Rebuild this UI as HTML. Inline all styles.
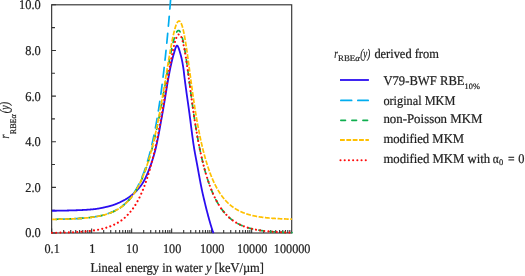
<!DOCTYPE html>
<html><head><meta charset="utf-8"><title>chart</title>
<style>html,body{margin:0;padding:0;background:#fff}svg{display:block}text{font-family:"Liberation Serif",serif;fill:#222;text-rendering:geometricPrecision;stroke:#222;stroke-width:0.22px}.i{font-style:italic}</style></head><body>
<svg width="525" height="276" viewBox="0 0 525 276">
<rect width="525" height="276" fill="#fff"/>
<rect x="51.65" y="4.80" width="240.05" height="228.20" fill="none" stroke="#333" stroke-width="1.15"/>
<path d="M51.65,233.00 h4.3 M51.65,210.18 h3.3 M51.65,187.36 h4.3 M51.65,164.54 h3.3 M51.65,141.72 h4.3 M51.65,118.90 h3.3 M51.65,96.08 h4.3 M51.65,73.26 h3.3 M51.65,50.44 h4.3 M51.65,27.62 h3.3 M51.65,4.80 h4.3 M51.65,233.00 v-4.4 M63.69,233.00 v-3.0 M70.73,233.00 v-3.0 M75.73,233.00 v-3.0 M79.61,233.00 v-3.0 M82.78,233.00 v-3.0 M85.45,233.00 v-3.0 M87.77,233.00 v-3.0 M89.82,233.00 v-3.0 M91.65,233.00 v-4.4 M103.69,233.00 v-3.0 M110.73,233.00 v-3.0 M115.73,233.00 v-3.0 M119.61,233.00 v-3.0 M122.78,233.00 v-3.0 M125.45,233.00 v-3.0 M127.77,233.00 v-3.0 M129.82,233.00 v-3.0 M131.65,233.00 v-4.4 M143.69,233.00 v-3.0 M150.73,233.00 v-3.0 M155.73,233.00 v-3.0 M159.61,233.00 v-3.0 M162.78,233.00 v-3.0 M165.45,233.00 v-3.0 M167.77,233.00 v-3.0 M169.82,233.00 v-3.0 M171.65,233.00 v-4.4 M183.69,233.00 v-3.0 M190.73,233.00 v-3.0 M195.73,233.00 v-3.0 M199.61,233.00 v-3.0 M202.78,233.00 v-3.0 M205.45,233.00 v-3.0 M207.77,233.00 v-3.0 M209.82,233.00 v-3.0 M211.65,233.00 v-4.4 M223.69,233.00 v-3.0 M230.73,233.00 v-3.0 M235.73,233.00 v-3.0 M239.61,233.00 v-3.0 M242.78,233.00 v-3.0 M245.45,233.00 v-3.0 M247.77,233.00 v-3.0 M249.82,233.00 v-3.0 M251.65,233.00 v-4.4 M263.69,233.00 v-3.0 M270.73,233.00 v-3.0 M275.73,233.00 v-3.0 M279.61,233.00 v-3.0 M282.78,233.00 v-3.0 M285.45,233.00 v-3.0 M287.77,233.00 v-3.0 M289.82,233.00 v-3.0" stroke="#333" stroke-width="1.1" fill="none"/>
<path d="M52.00,210.75 L52.25,210.75 L52.50,210.75 L52.75,210.75 L53.00,210.75 L53.25,210.75 L53.50,210.75 L53.75,210.75 L54.00,210.75 L54.25,210.74 L54.50,210.74 L54.75,210.74 L55.00,210.74 L55.25,210.74 L55.50,210.74 L55.75,210.73 L56.00,210.73 L56.25,210.73 L56.50,210.73 L56.75,210.72 L57.00,210.72 L57.25,210.72 L57.50,210.71 L57.75,210.71 L58.00,210.71 L58.25,210.70 L58.50,210.70 L58.75,210.70 L59.00,210.69 L59.25,210.69 L59.50,210.69 L59.75,210.68 L60.00,210.68 L60.25,210.67 L60.50,210.67 L60.75,210.66 L61.00,210.66 L61.25,210.66 L61.50,210.65 L61.75,210.65 L62.00,210.64 L62.25,210.64 L62.50,210.63 L62.75,210.63 L63.00,210.62 L63.25,210.62 L63.50,210.61 L63.75,210.60 L64.00,210.60 L64.25,210.59 L64.50,210.59 L64.75,210.58 L65.00,210.58 L65.25,210.57 L65.50,210.56 L65.75,210.56 L66.00,210.55 L66.25,210.54 L66.50,210.54 L66.75,210.53 L67.00,210.53 L67.25,210.52 L67.50,210.51 L67.75,210.51 L68.00,210.50 L68.25,210.49 L68.50,210.49 L68.75,210.48 L69.00,210.47 L69.25,210.47 L69.50,210.46 L69.75,210.45 L70.00,210.44 L70.25,210.44 L70.50,210.43 L70.75,210.42 L71.00,210.42 L71.25,210.41 L71.50,210.40 L71.75,210.39 L72.00,210.39 L72.25,210.38 L72.50,210.37 L72.75,210.37 L73.00,210.36 L73.25,210.35 L73.50,210.34 L73.75,210.34 L74.00,210.33 L74.25,210.32 L74.50,210.31 L74.75,210.31 L75.00,210.30 L75.25,210.29 L75.50,210.28 L75.75,210.28 L76.00,210.27 L76.25,210.26 L76.50,210.25 L76.75,210.24 L77.00,210.24 L77.25,210.23 L77.50,210.22 L77.75,210.21 L78.00,210.20 L78.25,210.19 L78.50,210.18 L78.75,210.17 L79.00,210.16 L79.25,210.15 L79.50,210.14 L79.75,210.13 L80.00,210.12 L80.25,210.11 L80.50,210.10 L80.75,210.09 L81.00,210.08 L81.25,210.07 L81.50,210.05 L81.75,210.04 L82.00,210.03 L82.25,210.02 L82.50,210.01 L82.75,209.99 L83.00,209.98 L83.25,209.97 L83.50,209.95 L83.75,209.94 L84.00,209.93 L84.25,209.91 L84.50,209.90 L84.75,209.88 L85.00,209.87 L85.25,209.86 L85.50,209.84 L85.75,209.83 L86.00,209.81 L86.25,209.79 L86.50,209.78 L86.75,209.76 L87.00,209.75 L87.25,209.73 L87.50,209.71 L87.75,209.70 L88.00,209.68 L88.25,209.66 L88.50,209.65 L88.75,209.63 L89.00,209.61 L89.25,209.59 L89.50,209.57 L89.75,209.55 L90.00,209.54 L90.25,209.52 L90.50,209.50 L90.75,209.48 L91.00,209.46 L91.25,209.44 L91.50,209.42 L91.75,209.40 L92.00,209.37 L92.25,209.35 L92.50,209.33 L92.75,209.31 L93.00,209.28 L93.25,209.25 L93.50,209.23 L93.75,209.20 L94.00,209.17 L94.25,209.14 L94.50,209.11 L94.75,209.08 L95.00,209.05 L95.25,209.02 L95.50,208.99 L95.75,208.95 L96.00,208.92 L96.25,208.88 L96.50,208.84 L96.75,208.81 L97.00,208.77 L97.25,208.73 L97.50,208.69 L97.75,208.65 L98.00,208.61 L98.25,208.57 L98.50,208.53 L98.75,208.49 L99.00,208.44 L99.25,208.40 L99.50,208.35 L99.75,208.31 L100.00,208.26 L100.25,208.22 L100.50,208.17 L100.75,208.12 L101.00,208.07 L101.25,208.02 L101.50,207.97 L101.75,207.92 L102.00,207.87 L102.25,207.82 L102.50,207.77 L102.75,207.72 L103.00,207.67 L103.25,207.61 L103.50,207.56 L103.75,207.50 L104.00,207.45 L104.25,207.39 L104.50,207.34 L104.75,207.28 L105.00,207.22 L105.25,207.17 L105.50,207.11 L105.75,207.05 L106.00,206.99 L106.25,206.93 L106.50,206.87 L106.75,206.81 L107.00,206.75 L107.25,206.69 L107.50,206.63 L107.75,206.57 L108.00,206.51 L108.25,206.44 L108.50,206.38 L108.75,206.32 L109.00,206.26 L109.25,206.19 L109.50,206.13 L109.75,206.06 L110.00,206.00 L110.25,205.93 L110.50,205.87 L110.75,205.80 L111.00,205.73 L111.25,205.66 L111.50,205.58 L111.75,205.51 L112.00,205.43 L112.25,205.35 L112.50,205.27 L112.75,205.19 L113.00,205.10 L113.25,205.02 L113.50,204.93 L113.75,204.84 L114.00,204.75 L114.25,204.66 L114.50,204.57 L114.75,204.48 L115.00,204.38 L115.25,204.29 L115.50,204.19 L115.75,204.09 L116.00,203.99 L116.25,203.89 L116.50,203.79 L116.75,203.69 L117.00,203.58 L117.25,203.48 L117.50,203.37 L117.75,203.26 L118.00,203.15 L118.25,203.04 L118.50,202.93 L118.75,202.82 L119.00,202.71 L119.25,202.60 L119.50,202.48 L119.75,202.37 L120.00,202.25 L120.25,202.14 L120.50,202.02 L120.75,201.90 L121.00,201.78 L121.25,201.66 L121.50,201.54 L121.75,201.42 L122.00,201.30 L122.25,201.18 L122.50,201.05 L122.75,200.93 L123.00,200.80 L123.25,200.67 L123.50,200.54 L123.75,200.40 L124.00,200.27 L124.25,200.13 L124.50,199.99 L124.75,199.85 L125.00,199.70 L125.25,199.56 L125.50,199.41 L125.75,199.26 L126.00,199.11 L126.25,198.96 L126.50,198.80 L126.75,198.65 L127.00,198.49 L127.25,198.33 L127.50,198.16 L127.75,198.00 L128.00,197.83 L128.25,197.67 L128.50,197.50 L128.75,197.33 L129.00,197.15 L129.25,196.98 L129.50,196.80 L129.75,196.62 L130.00,196.44 L130.25,196.26 L130.50,196.08 L130.75,195.89 L131.00,195.70 L131.25,195.51 L131.50,195.32 L131.75,195.13 L132.00,194.93 L132.25,194.73 L132.50,194.52 L132.75,194.31 L133.00,194.10 L133.25,193.88 L133.50,193.66 L133.75,193.44 L134.00,193.21 L134.25,192.98 L134.50,192.75 L134.75,192.51 L135.00,192.27 L135.25,192.03 L135.50,191.78 L135.75,191.53 L136.00,191.28 L136.25,191.02 L136.50,190.77 L136.75,190.51 L137.00,190.24 L137.25,189.98 L137.50,189.71 L137.75,189.44 L138.00,189.16 L138.25,188.88 L138.50,188.60 L138.75,188.32 L139.00,188.03 L139.25,187.73 L139.50,187.43 L139.75,187.12 L140.00,186.81 L140.25,186.50 L140.50,186.17 L140.75,185.84 L141.00,185.51 L141.25,185.17 L141.50,184.82 L141.75,184.46 L142.00,184.10 L142.25,183.72 L142.50,183.34 L142.75,182.94 L143.00,182.53 L143.25,182.10 L143.50,181.66 L143.75,181.21 L144.00,180.75 L144.25,180.27 L144.50,179.79 L144.75,179.30 L145.00,178.80 L145.25,178.29 L145.50,177.78 L145.75,177.26 L146.00,176.72 L146.25,176.19 L146.50,175.64 L146.75,175.08 L147.00,174.52 L147.25,173.95 L147.50,173.37 L147.75,172.78 L148.00,172.18 L148.25,171.57 L148.50,170.96 L148.75,170.34 L149.00,169.70 L149.25,169.06 L149.50,168.41 L149.75,167.76 L150.00,167.09 L150.25,166.41 L150.50,165.72 L150.75,165.03 L151.00,164.32 L151.25,163.61 L151.50,162.88 L151.75,162.14 L152.00,161.39 L152.25,160.62 L152.50,159.84 L152.75,159.05 L153.00,158.24 L153.25,157.42 L153.50,156.58 L153.75,155.72 L154.00,154.85 L154.25,153.95 L154.50,153.04 L154.75,152.11 L155.00,151.17 L155.25,150.20 L155.50,149.20 L155.75,148.17 L156.00,147.12 L156.25,146.02 L156.50,144.91 L156.75,143.76 L157.00,142.59 L157.25,141.39 L157.50,140.17 L157.75,138.92 L158.00,137.66 L158.25,136.38 L158.50,135.08 L158.75,133.76 L159.00,132.43 L159.25,131.08 L159.50,129.73 L159.75,128.36 L160.00,126.99 L160.25,125.60 L160.50,124.21 L160.75,122.82 L161.00,121.42 L161.25,120.02 L161.50,118.62 L161.75,117.23 L162.00,115.83 L162.25,114.44 L162.50,113.05 L162.75,111.67 L163.00,110.26 L163.25,108.83 L163.50,107.38 L163.75,105.92 L164.00,104.43 L164.25,102.94 L164.50,101.43 L164.75,99.91 L165.00,98.39 L165.25,96.86 L165.50,95.33 L165.75,93.79 L166.00,92.26 L166.25,90.73 L166.50,89.21 L166.75,87.70 L167.00,86.19 L167.25,84.70 L167.50,83.22 L167.75,81.76 L168.00,80.32 L168.25,78.90 L168.50,77.50 L168.75,76.11 L169.00,74.73 L169.25,73.36 L169.50,72.02 L169.75,70.72 L170.00,69.48 L170.25,68.29 L170.50,67.12 L170.75,65.96 L171.00,64.82 L171.25,63.69 L171.50,62.59 L171.75,61.51 L172.00,60.45 L172.25,59.43 L172.50,58.43 L172.75,57.47 L173.00,56.55 L173.25,55.67 L173.50,54.82 L173.75,54.01 L174.00,53.16 L174.25,52.29 L174.50,51.40 L174.75,50.52 L175.00,49.66 L175.25,48.85 L175.50,48.08 L175.75,47.39 L176.00,46.79 L176.25,46.29 L176.50,45.92 L176.75,45.68 L177.00,45.60 L177.25,45.67 L177.50,45.87 L177.75,46.18 L178.00,46.61 L178.25,47.12 L178.50,47.73 L178.75,48.40 L179.00,49.13 L179.25,49.92 L179.50,50.74 L179.75,51.58 L180.00,52.45 L180.25,53.31 L180.50,54.16 L180.75,55.02 L181.00,55.93 L181.25,56.93 L181.50,57.99 L181.75,59.13 L182.00,60.33 L182.25,61.61 L182.50,62.95 L182.75,64.36 L183.00,65.84 L183.25,67.39 L183.50,69.00 L183.75,70.88 L184.00,73.07 L184.25,75.36 L184.50,77.50 L184.75,79.48 L185.00,81.42 L185.25,83.33 L185.50,85.21 L185.75,87.07 L186.00,88.90 L186.25,90.72 L186.50,92.52 L186.75,94.30 L187.00,96.08 L187.25,97.85 L187.50,99.61 L187.75,101.38 L188.00,103.15 L188.25,104.92 L188.50,106.70 L188.75,108.49 L189.00,110.30 L189.25,112.13 L189.50,113.98 L189.75,115.87 L190.00,117.78 L190.25,119.71 L190.50,121.66 L190.75,123.62 L191.00,125.58 L191.25,127.54 L191.50,129.49 L191.75,131.44 L192.00,133.36 L192.25,135.26 L192.50,137.14 L192.75,138.98 L193.00,140.78 L193.25,142.54 L193.50,144.25 L193.75,145.91 L194.00,147.50 L194.25,149.03 L194.50,150.51 L194.75,151.95 L195.00,153.34 L195.25,154.71 L195.50,156.04 L195.75,157.36 L196.00,158.67 L196.25,159.97 L196.50,161.28 L196.75,162.59 L197.00,163.92 L197.25,165.27 L197.50,166.64 L197.75,168.01 L198.00,169.39 L198.25,170.77 L198.50,172.15 L198.75,173.54 L199.00,174.91 L199.25,176.28 L199.50,177.64 L199.75,178.99 L200.00,180.33 L200.25,181.65 L200.50,182.96 L200.75,184.24 L201.00,185.50 L201.25,186.76 L201.50,188.00 L201.75,189.23 L202.00,190.44 L202.25,191.63 L202.50,192.79 L202.75,193.91 L203.00,195.00 L203.25,196.06 L203.50,197.12 L203.75,198.18 L204.00,199.23 L204.25,200.27 L204.50,201.31 L204.75,202.35 L205.00,203.38 L205.25,204.40 L205.50,205.42 L205.75,206.44 L206.00,207.44 L206.25,208.44 L206.50,209.44 L206.75,210.42 L207.00,211.40 L207.25,212.37 L207.50,213.33 L207.75,214.29 L208.00,215.23 L208.25,216.17 L208.50,217.09 L208.75,218.01 L209.00,218.92 L209.25,219.82 L209.50,220.71 L209.75,221.58 L210.00,222.45 L210.25,223.31 L210.50,224.15 L210.75,224.98 L211.00,225.80 L211.25,226.61 L211.50,227.41 L211.75,228.19 L212.00,228.96 L212.25,229.72 L212.50,230.46 L212.75,231.20 L213.00,231.91 L213.25,232.61 L213.50,233.30" fill="none" stroke="#2a0df0" stroke-width="1.8" stroke-linejoin="round"/>
<path d="M52.00,219.34 L52.20,219.34 L52.40,219.34 L52.60,219.33 L52.80,219.33 L53.00,219.33 L53.20,219.33 L53.40,219.32 L53.60,219.32 L53.80,219.32 L54.00,219.31 L54.20,219.31 L54.40,219.31 L54.60,219.30 L54.80,219.30 L55.00,219.30 L55.20,219.30 L55.40,219.29 L55.60,219.29 L55.80,219.29 L56.00,219.28 L56.20,219.28 L56.40,219.27 L56.60,219.27 L56.80,219.27 L57.00,219.26 L57.20,219.26 L57.40,219.26 L57.60,219.25 L57.80,219.25 L58.00,219.24 L58.20,219.24 L58.40,219.24 L58.60,219.23 L58.80,219.23 L59.00,219.23 L59.20,219.22 L59.40,219.22 L59.60,219.21 L59.80,219.21 L60.00,219.20 L60.20,219.20 L60.40,219.20 L60.60,219.19 L60.80,219.19 L61.00,219.18 L61.20,219.18 L61.40,219.17 L61.60,219.17 L61.80,219.16 L62.00,219.16 L62.20,219.15 L62.40,219.15 L62.60,219.14 L62.80,219.14 L63.00,219.13 L63.20,219.13 L63.40,219.12 L63.60,219.12 L63.80,219.11 L64.00,219.11 L64.20,219.10 L64.40,219.09 L64.60,219.09 L64.80,219.08 L65.00,219.08 L65.20,219.07 L65.40,219.07 L65.60,219.06 L65.80,219.05 L66.00,219.05 L66.20,219.04 L66.40,219.04 L66.60,219.03 L66.80,219.02 L67.00,219.02 L67.20,219.01 L67.40,219.00 L67.60,219.00 L67.80,218.99 L68.00,218.98 L68.20,218.98 L68.40,218.97 L68.60,218.96 L68.80,218.95 L69.00,218.95 L69.20,218.94 L69.40,218.93 L69.60,218.93 L69.80,218.92 L70.00,218.91 L70.20,218.90 L70.40,218.89 L70.60,218.89 L70.80,218.88 L71.00,218.87 L71.20,218.86 L71.40,218.85 L71.60,218.84 L71.80,218.84 L72.00,218.83 L72.20,218.82 L72.40,218.81 L72.60,218.80 L72.80,218.79 L73.00,218.78 L73.20,218.77 L73.40,218.76 L73.60,218.75 L73.80,218.75 L74.00,218.74 L74.20,218.73 L74.40,218.72 L74.60,218.71 L74.80,218.70 L75.00,218.69 L75.20,218.68 L75.40,218.66 L75.60,218.65 L75.80,218.64 L76.00,218.63 L76.20,218.62 L76.40,218.61 L76.60,218.60 L76.80,218.59 L77.00,218.58 L77.20,218.56 L77.40,218.55 L77.60,218.54 L77.80,218.53 L78.00,218.52 L78.20,218.50 L78.40,218.49 L78.60,218.48 L78.80,218.47 L79.00,218.45 L79.20,218.44 L79.40,218.43 L79.60,218.41 L79.80,218.40 L80.00,218.39 L80.20,218.37 L80.40,218.36 L80.60,218.34 L80.80,218.33 L81.00,218.32 L81.20,218.30 L81.40,218.29 L81.60,218.27 L81.80,218.26 L82.00,218.24 L82.20,218.23 L82.40,218.21 L82.60,218.19 L82.80,218.18 L83.00,218.16 L83.20,218.14 L83.40,218.13 L83.60,218.11 L83.80,218.09 L84.00,218.08 L84.20,218.06 L84.40,218.04 L84.60,218.02 L84.80,218.01 L85.00,217.99 L85.20,217.97 L85.40,217.95 L85.60,217.93 L85.80,217.91 L86.00,217.89 L86.20,217.87 L86.40,217.85 L86.60,217.83 L86.80,217.81 L87.00,217.79 L87.20,217.77 L87.40,217.75 L87.60,217.73 L87.80,217.71 L88.00,217.69 L88.20,217.67 L88.40,217.64 L88.60,217.62 L88.80,217.60 L89.00,217.58 L89.20,217.55 L89.40,217.53 L89.60,217.50 L89.80,217.48 L90.00,217.46 L90.20,217.43 L90.40,217.41 L90.60,217.38 L90.80,217.36 L91.00,217.33 L91.20,217.30 L91.40,217.28 L91.60,217.25 L91.80,217.22 L92.00,217.20 L92.20,217.17 L92.40,217.14 L92.60,217.11 L92.80,217.08 L93.00,217.06 L93.20,217.03 L93.40,217.00 L93.60,216.97 L93.80,216.94 L94.00,216.91 L94.20,216.88 L94.40,216.84 L94.60,216.81 L94.80,216.78 L95.00,216.75 L95.20,216.71 L95.40,216.68 L95.60,216.65 L95.80,216.61 L96.00,216.58 L96.20,216.54 L96.40,216.51 L96.60,216.47 L96.80,216.44 L97.00,216.40 L97.20,216.36 L97.40,216.33 L97.60,216.29 L97.80,216.25 L98.00,216.21 L98.20,216.17 L98.40,216.13 L98.60,216.10 L98.80,216.05 L99.00,216.01 L99.20,215.97 L99.40,215.93 L99.60,215.89 L99.80,215.85 L100.00,215.80 L100.20,215.76 L100.40,215.71 L100.60,215.67 L100.80,215.62 L101.00,215.58 L101.20,215.53 L101.40,215.49 L101.60,215.44 L101.80,215.39 L102.00,215.34 L102.20,215.29 L102.40,215.24 L102.60,215.19 L102.80,215.14 L103.00,215.09 L103.20,215.04 L103.40,214.99 L103.60,214.93 L103.80,214.88 L104.00,214.82 L104.20,214.77 L104.40,214.71 L104.60,214.66 L104.80,214.60 L105.00,214.54 L105.20,214.48 L105.40,214.42 L105.60,214.36 L105.80,214.30 L106.00,214.24 L106.20,214.18 L106.40,214.12 L106.60,214.06 L106.80,213.99 L107.00,213.93 L107.20,213.86 L107.40,213.80 L107.60,213.73 L107.80,213.66 L108.00,213.59 L108.20,213.52 L108.40,213.45 L108.60,213.38 L108.80,213.31 L109.00,213.24 L109.20,213.16 L109.40,213.09 L109.60,213.01 L109.80,212.94 L110.00,212.86 L110.20,212.78 L110.40,212.70 L110.60,212.62 L110.80,212.54 L111.00,212.46 L111.20,212.38 L111.40,212.30 L111.60,212.21 L111.80,212.13 L112.00,212.04 L112.20,211.95 L112.40,211.87 L112.60,211.78 L112.80,211.69 L113.00,211.59 L113.20,211.50 L113.40,211.41 L113.60,211.31 L113.80,211.22 L114.00,211.12 L114.20,211.02 L114.40,210.92 L114.60,210.82 L114.80,210.72 L115.00,210.62 L115.20,210.52 L115.40,210.41 L115.60,210.30 L115.80,210.20 L116.00,210.09 L116.20,209.98 L116.40,209.87 L116.60,209.75 L116.80,209.64 L117.00,209.53 L117.20,209.41 L117.40,209.29 L117.60,209.17 L117.80,209.05 L118.00,208.93 L118.20,208.81 L118.40,208.68 L118.60,208.56 L118.80,208.43 L119.00,208.30 L119.20,208.17 L119.40,208.04 L119.60,207.90 L119.80,207.77 L120.00,207.63 L120.20,207.49 L120.40,207.35 L120.60,207.21 L120.80,207.07 L121.00,206.92 L121.20,206.78 L121.40,206.63 L121.60,206.48 L121.80,206.33 L122.00,206.17 L122.20,206.02 L122.40,205.86 L122.60,205.70 L122.80,205.54 L123.00,205.38 L123.20,205.21 L123.40,205.05 L123.60,204.88 L123.80,204.71 L124.00,204.54 L124.20,204.36 L124.40,204.18 L124.60,204.01 L124.80,203.83 L125.00,203.64 L125.20,203.46 L125.40,203.27 L125.60,203.08 L125.80,202.89 L126.00,202.70 L126.20,202.50 L126.40,202.31 L126.60,202.11 L126.80,201.90 L127.00,201.70 L127.20,201.49 L127.40,201.28 L127.60,201.07 L127.80,200.86 L128.00,200.64 L128.20,200.42 L128.40,200.20 L128.60,199.97 L128.80,199.75 L129.00,199.52 L129.20,199.28 L129.40,199.05 L129.60,198.81 L129.80,198.57 L130.00,198.33 L130.20,198.08 L130.40,197.83 L130.60,197.58 L130.80,197.33 L131.00,197.07 L131.20,196.81 L131.40,196.54 L131.60,196.28 L131.80,196.01 L132.00,195.73 L132.20,195.46 L132.40,195.18 L132.60,194.90 L132.80,194.61 L133.00,194.32 L133.20,194.03 L133.40,193.73 L133.60,193.43 L133.80,193.13 L134.00,192.83 L134.20,192.52 L134.40,192.20 L134.60,191.88 L134.80,191.56 L135.00,191.24 L135.20,190.91 L135.40,190.58 L135.60,190.24 L135.80,189.90 L136.00,189.56 L136.20,189.21 L136.40,188.86 L136.60,188.51 L136.80,188.15 L137.00,187.78 L137.20,187.41 L137.40,187.04 L137.60,186.66 L137.80,186.28 L138.00,185.90 L138.20,185.51 L138.40,185.11 L138.60,184.71 L138.80,184.31 L139.00,183.90 L139.20,183.49 L139.40,183.07 L139.60,182.65 L139.80,182.22 L140.00,181.79 L140.20,181.35 L140.40,180.91 L140.60,180.46 L140.80,180.01 L141.00,179.55 L141.20,179.08 L141.40,178.62 L141.60,178.14 L141.80,177.66 L142.00,177.18 L142.20,176.68 L142.40,176.19 L142.60,175.69 L142.80,175.18 L143.00,174.66 L143.20,174.14 L143.40,173.62 L143.60,173.08 L143.80,172.55 L144.00,172.00 L144.20,171.45 L144.40,170.89 L144.60,170.33 L144.80,169.76 L145.00,169.18 L145.20,168.60 L145.40,168.01 L145.60,167.41 L145.80,166.81 L146.00,166.20 L146.20,165.58 L146.40,164.95 L146.60,164.32 L146.80,163.68 L147.00,163.03 L147.20,162.38 L147.40,161.71 L147.60,161.04 L147.80,160.37 L148.00,159.68 L148.20,158.99 L148.40,158.29 L148.60,157.58 L148.80,156.86 L149.00,156.13 L149.20,155.40 L149.40,154.65 L149.60,153.90 L149.80,153.14 L150.00,152.37 L150.20,151.59 L150.40,150.81 L150.60,150.01 L150.80,149.20 L151.00,148.39 L151.20,147.57 L151.40,146.73 L151.60,145.89 L151.80,145.03 L152.00,144.17 L152.20,143.30 L152.40,142.41 L152.60,141.52 L152.80,140.62 L153.00,139.70 L153.20,138.78 L153.40,137.84 L153.60,136.90 L153.80,135.94 L154.00,134.97 L154.20,133.99 L154.40,133.00 L154.60,132.00 L154.80,130.98 L155.00,129.96 L155.20,128.92 L155.40,127.87 L155.60,126.81 L155.80,125.73 L156.00,124.65 L156.20,123.55 L156.40,122.43 L156.60,121.31 L156.80,120.17 L157.00,119.02 L157.20,117.86 L157.40,116.68 L157.60,115.49 L157.80,114.28 L158.00,113.06 L158.20,111.83 L158.40,110.58 L158.60,109.32 L158.80,108.04 L159.00,106.75 L159.20,105.44 L159.40,104.12 L159.60,102.78 L159.80,101.43 L160.00,100.06 L160.20,98.68 L160.40,97.28 L160.60,95.86 L160.80,94.43 L161.00,92.98 L161.20,91.52 L161.40,90.03 L161.60,88.53 L161.80,87.02 L162.00,85.48 L162.20,83.93 L162.40,82.36 L162.60,80.77 L162.80,79.16 L163.00,77.53 L163.20,75.89 L163.40,74.23 L163.60,72.54 L163.80,70.84 L164.00,69.12 L164.20,67.38 L164.40,65.61 L164.60,63.83 L164.80,62.03 L165.00,60.20 L165.20,58.36 L165.40,56.49 L165.60,54.60 L165.80,52.69 L166.00,50.76 L166.20,48.80 L166.40,46.83 L166.60,44.83 L166.80,42.80 L167.00,40.76 L167.20,38.68 L167.40,36.59 L167.60,34.47 L167.80,32.33 L168.00,30.16 L168.20,27.97 L168.40,25.75 L168.60,23.50 L168.80,21.23 L169.00,18.94 L169.20,16.61 L169.40,14.26 L169.60,11.88 L169.80,9.48 L170.00,7.05 L170.20,4.59 L170.40,2.10 L170.60,-0.42" fill="none" stroke="#00adef" stroke-width="1.7" stroke-linecap="round" stroke-dasharray="9.7 7.4" stroke-dashoffset="11.70" stroke-linejoin="round"/>
<path d="M52.00,219.35 L52.20,219.35 L52.40,219.34 L52.60,219.34 L52.80,219.34 L53.00,219.34 L53.20,219.33 L53.40,219.33 L53.60,219.33 L53.80,219.32 L54.00,219.32 L54.20,219.32 L54.40,219.32 L54.60,219.31 L54.80,219.31 L55.00,219.31 L55.20,219.30 L55.40,219.30 L55.60,219.30 L55.80,219.29 L56.00,219.29 L56.20,219.29 L56.40,219.28 L56.60,219.28 L56.80,219.28 L57.00,219.27 L57.20,219.27 L57.40,219.26 L57.60,219.26 L57.80,219.26 L58.00,219.25 L58.20,219.25 L58.40,219.25 L58.60,219.24 L58.80,219.24 L59.00,219.23 L59.20,219.23 L59.40,219.23 L59.60,219.22 L59.80,219.22 L60.00,219.21 L60.20,219.21 L60.40,219.21 L60.60,219.20 L60.80,219.20 L61.00,219.19 L61.20,219.19 L61.40,219.18 L61.60,219.18 L61.80,219.17 L62.00,219.17 L62.20,219.16 L62.40,219.16 L62.60,219.15 L62.80,219.15 L63.00,219.14 L63.20,219.14 L63.40,219.13 L63.60,219.13 L63.80,219.12 L64.00,219.12 L64.20,219.11 L64.40,219.11 L64.60,219.10 L64.80,219.10 L65.00,219.09 L65.20,219.09 L65.40,219.08 L65.60,219.07 L65.80,219.07 L66.00,219.06 L66.20,219.06 L66.40,219.05 L66.60,219.04 L66.80,219.04 L67.00,219.03 L67.20,219.02 L67.40,219.02 L67.60,219.01 L67.80,219.01 L68.00,219.00 L68.20,218.99 L68.40,218.98 L68.60,218.98 L68.80,218.97 L69.00,218.96 L69.20,218.96 L69.40,218.95 L69.60,218.94 L69.80,218.93 L70.00,218.93 L70.20,218.92 L70.40,218.91 L70.60,218.90 L70.80,218.90 L71.00,218.89 L71.20,218.88 L71.40,218.87 L71.60,218.86 L71.80,218.86 L72.00,218.85 L72.20,218.84 L72.40,218.83 L72.60,218.82 L72.80,218.81 L73.00,218.80 L73.20,218.79 L73.40,218.79 L73.60,218.78 L73.80,218.77 L74.00,218.76 L74.20,218.75 L74.40,218.74 L74.60,218.73 L74.80,218.72 L75.00,218.71 L75.20,218.70 L75.40,218.69 L75.60,218.68 L75.80,218.67 L76.00,218.66 L76.20,218.65 L76.40,218.64 L76.60,218.62 L76.80,218.61 L77.00,218.60 L77.20,218.59 L77.40,218.58 L77.60,218.57 L77.80,218.56 L78.00,218.54 L78.20,218.53 L78.40,218.52 L78.60,218.51 L78.80,218.50 L79.00,218.48 L79.20,218.47 L79.40,218.46 L79.60,218.44 L79.80,218.43 L80.00,218.42 L80.20,218.40 L80.40,218.39 L80.60,218.38 L80.80,218.36 L81.00,218.35 L81.20,218.33 L81.40,218.32 L81.60,218.31 L81.80,218.29 L82.00,218.28 L82.20,218.26 L82.40,218.25 L82.60,218.23 L82.80,218.21 L83.00,218.20 L83.20,218.18 L83.40,218.17 L83.60,218.15 L83.80,218.13 L84.00,218.12 L84.20,218.10 L84.40,218.08 L84.60,218.06 L84.80,218.05 L85.00,218.03 L85.20,218.01 L85.40,217.99 L85.60,217.97 L85.80,217.96 L86.00,217.94 L86.20,217.92 L86.40,217.90 L86.60,217.88 L86.80,217.86 L87.00,217.84 L87.20,217.82 L87.40,217.80 L87.60,217.78 L87.80,217.76 L88.00,217.74 L88.20,217.72 L88.40,217.69 L88.60,217.67 L88.80,217.65 L89.00,217.63 L89.20,217.61 L89.40,217.58 L89.60,217.56 L89.80,217.54 L90.00,217.51 L90.20,217.49 L90.40,217.46 L90.60,217.44 L90.80,217.41 L91.00,217.39 L91.20,217.36 L91.40,217.34 L91.60,217.31 L91.80,217.29 L92.00,217.26 L92.20,217.23 L92.40,217.21 L92.60,217.18 L92.80,217.15 L93.00,217.12 L93.20,217.09 L93.40,217.06 L93.60,217.04 L93.80,217.01 L94.00,216.98 L94.20,216.95 L94.40,216.92 L94.60,216.88 L94.80,216.85 L95.00,216.82 L95.20,216.79 L95.40,216.76 L95.60,216.72 L95.80,216.69 L96.00,216.66 L96.20,216.62 L96.40,216.59 L96.60,216.56 L96.80,216.52 L97.00,216.49 L97.20,216.45 L97.40,216.41 L97.60,216.38 L97.80,216.34 L98.00,216.30 L98.20,216.26 L98.40,216.23 L98.60,216.19 L98.80,216.15 L99.00,216.11 L99.20,216.07 L99.40,216.03 L99.60,215.99 L99.80,215.94 L100.00,215.90 L100.20,215.86 L100.40,215.82 L100.60,215.77 L100.80,215.73 L101.00,215.68 L101.20,215.64 L101.40,215.59 L101.60,215.55 L101.80,215.50 L102.00,215.45 L102.20,215.41 L102.40,215.36 L102.60,215.31 L102.80,215.26 L103.00,215.21 L103.20,215.16 L103.40,215.11 L103.60,215.06 L103.80,215.00 L104.00,214.95 L104.20,214.90 L104.40,214.84 L104.60,214.79 L104.80,214.73 L105.00,214.68 L105.20,214.62 L105.40,214.56 L105.60,214.50 L105.80,214.44 L106.00,214.39 L106.20,214.33 L106.40,214.26 L106.60,214.20 L106.80,214.14 L107.00,214.08 L107.20,214.01 L107.40,213.95 L107.60,213.88 L107.80,213.82 L108.00,213.75 L108.20,213.68 L108.40,213.62 L108.60,213.55 L108.80,213.48 L109.00,213.41 L109.20,213.34 L109.40,213.26 L109.60,213.19 L109.80,213.12 L110.00,213.04 L110.20,212.97 L110.40,212.89 L110.60,212.81 L110.80,212.73 L111.00,212.65 L111.20,212.57 L111.40,212.49 L111.60,212.41 L111.80,212.33 L112.00,212.24 L112.20,212.16 L112.40,212.07 L112.60,211.99 L112.80,211.90 L113.00,211.81 L113.20,211.72 L113.40,211.63 L113.60,211.54 L113.80,211.45 L114.00,211.35 L114.20,211.26 L114.40,211.16 L114.60,211.06 L114.80,210.96 L115.00,210.86 L115.20,210.76 L115.40,210.66 L115.60,210.56 L115.80,210.45 L116.00,210.35 L116.20,210.24 L116.40,210.13 L116.60,210.03 L116.80,209.91 L117.00,209.80 L117.20,209.69 L117.40,209.58 L117.60,209.46 L117.80,209.34 L118.00,209.23 L118.20,209.11 L118.40,208.98 L118.60,208.86 L118.80,208.74 L119.00,208.61 L119.20,208.49 L119.40,208.36 L119.60,208.23 L119.80,208.10 L120.00,207.97 L120.20,207.83 L120.40,207.70 L120.60,207.56 L120.80,207.42 L121.00,207.28 L121.20,207.14 L121.40,206.99 L121.60,206.85 L121.80,206.70 L122.00,206.55 L122.20,206.40 L122.40,206.25 L122.60,206.10 L122.80,205.94 L123.00,205.78 L123.20,205.62 L123.40,205.46 L123.60,205.30 L123.80,205.14 L124.00,204.97 L124.20,204.80 L124.40,204.63 L124.60,204.46 L124.80,204.28 L125.00,204.11 L125.20,203.93 L125.40,203.75 L125.60,203.57 L125.80,203.38 L126.00,203.20 L126.20,203.01 L126.40,202.82 L126.60,202.62 L126.80,202.43 L127.00,202.23 L127.20,202.03 L127.40,201.83 L127.60,201.62 L127.80,201.42 L128.00,201.21 L128.20,201.00 L128.40,200.78 L128.60,200.57 L128.80,200.35 L129.00,200.13 L129.20,199.90 L129.40,199.68 L129.60,199.45 L129.80,199.22 L130.00,198.98 L130.20,198.74 L130.40,198.51 L130.60,198.26 L130.80,198.02 L131.00,197.77 L131.20,197.52 L131.40,197.27 L131.60,197.01 L131.80,196.75 L132.00,196.49 L132.20,196.22 L132.40,195.96 L132.60,195.69 L132.80,195.41 L133.00,195.13 L133.20,194.85 L133.40,194.57 L133.60,194.28 L133.80,193.99 L134.00,193.70 L134.20,193.40 L134.40,193.10 L134.60,192.80 L134.80,192.49 L135.00,192.18 L135.20,191.87 L135.40,191.55 L135.60,191.23 L135.80,190.91 L136.00,190.58 L136.20,190.25 L136.40,189.92 L136.60,189.58 L136.80,189.23 L137.00,188.89 L137.20,188.54 L137.40,188.18 L137.60,187.82 L137.80,187.46 L138.00,187.10 L138.20,186.73 L138.40,186.35 L138.60,185.97 L138.80,185.59 L139.00,185.20 L139.20,184.81 L139.40,184.42 L139.60,184.02 L139.80,183.61 L140.00,183.21 L140.20,182.79 L140.40,182.37 L140.60,181.95 L140.80,181.53 L141.00,181.09 L141.20,180.66 L141.40,180.22 L141.60,179.77 L141.80,179.32 L142.00,178.87 L142.20,178.41 L142.40,177.94 L142.60,177.47 L142.80,176.99 L143.00,176.51 L143.20,176.03 L143.40,175.54 L143.60,175.04 L143.80,174.54 L144.00,174.03 L144.20,173.52 L144.40,173.00 L144.60,172.48 L144.80,171.95 L145.00,171.42 L145.20,170.88 L145.40,170.33 L145.60,169.78 L145.80,169.23 L146.00,168.66 L146.20,168.09 L146.40,167.52 L146.60,166.94 L146.80,166.35 L147.00,165.76 L147.20,165.16 L147.40,164.56 L147.60,163.95 L147.80,163.33 L148.00,162.71 L148.20,162.08 L148.40,161.44 L148.60,160.80 L148.80,160.15 L149.00,159.49 L149.20,158.83 L149.40,158.16 L149.60,157.49 L149.80,156.81 L150.00,156.12 L150.20,155.42 L150.40,154.72 L150.60,154.01 L150.80,153.30 L151.00,152.57 L151.20,151.84 L151.40,151.11 L151.60,150.36 L151.80,149.61 L152.00,148.86 L152.20,148.09 L152.40,147.32 L152.60,146.54 L152.80,145.76 L153.00,144.96 L153.20,144.16 L153.40,143.36 L153.60,142.54 L153.80,141.72 L154.00,140.89 L154.20,140.05 L154.40,139.21 L154.60,138.36 L154.80,137.50 L155.00,136.64 L155.20,135.76 L155.40,134.88 L155.60,134.00 L155.80,133.10 L156.00,132.20 L156.20,131.29 L156.40,130.38 L156.60,129.45 L156.80,128.52 L157.00,127.58 L157.20,126.64 L157.40,125.69 L157.60,124.73 L157.80,123.76 L158.00,122.79 L158.20,121.81 L158.40,120.82 L158.60,119.83 L158.80,118.83 L159.00,117.82 L159.20,116.81 L159.40,115.79 L159.60,114.76 L159.80,113.73 L160.00,112.69 L160.20,111.65 L160.40,110.60 L160.60,109.54 L160.80,108.48 L161.00,107.41 L161.20,106.33 L161.40,105.25 L161.60,104.17 L161.80,103.08 L162.00,101.98 L162.20,100.88 L162.40,99.78 L162.60,98.67 L162.80,97.56 L163.00,96.44 L163.20,95.32 L163.40,94.20 L163.60,93.07 L163.80,91.94 L164.00,90.81 L164.20,89.67 L164.40,88.53 L164.60,87.39 L164.80,86.25 L165.00,85.11 L165.20,83.96 L165.40,82.82 L165.60,81.67 L165.80,80.52 L166.00,79.38 L166.20,78.23 L166.40,77.09 L166.60,75.94 L166.80,74.80 L167.00,73.66 L167.20,72.52 L167.40,71.39 L167.60,70.26 L167.80,69.13 L168.00,68.01 L168.20,66.89 L168.40,65.77 L168.60,64.67 L168.80,63.57 L169.00,62.47 L169.20,61.38 L169.40,60.30 L169.60,59.23 L169.80,58.17 L170.00,57.12 L170.20,56.08 L170.40,55.05 L170.60,54.03 L170.80,53.02 L171.00,52.02 L171.20,51.04 L171.40,50.07 L171.60,49.12 L171.80,48.18 L172.00,47.26 L172.20,46.36 L172.40,45.47 L172.60,44.60 L172.80,43.75 L173.00,42.92 L173.20,42.11 L173.40,41.32 L173.60,40.55 L173.80,39.80 L174.00,39.08 L174.20,38.38 L174.40,37.71 L174.60,37.06 L174.80,36.44 L175.00,35.85 L175.20,35.28 L175.40,34.74 L175.60,34.23 L175.80,33.75 L176.00,33.30 L176.20,32.88 L176.40,32.50 L176.60,32.14 L176.80,31.82 L177.00,31.54 L177.20,31.28 L177.40,31.07 L177.60,30.89 L177.80,30.74 L178.00,30.63 L178.20,30.56 L178.40,30.52 L178.60,30.53 L178.80,30.57 L179.00,30.65 L179.20,30.77 L179.40,30.93 L179.60,31.13 L179.80,31.37 L180.00,31.65 L180.20,31.96 L180.40,32.32 L180.60,32.72 L180.80,33.16 L181.00,33.64 L181.20,34.16 L181.40,34.72 L181.60,35.32 L181.80,35.96 L182.00,36.64 L182.20,37.35 L182.40,38.11 L182.60,38.90 L182.80,39.73 L183.00,40.60 L183.20,41.51 L183.40,42.45 L183.60,43.42 L183.80,44.43 L184.00,45.47 L184.20,46.55 L184.40,47.65 L184.60,48.79 L184.80,49.95 L185.00,51.15 L185.20,52.37 L185.40,53.62 L185.60,54.89 L185.80,56.19 L186.00,57.51 L186.20,58.86 L186.40,60.22 L186.60,61.60 L186.80,63.00 L187.00,64.42 L187.20,65.85 L187.40,67.30 L187.60,68.76 L187.80,70.23 L188.00,71.71 L188.20,73.21 L188.40,74.70 L188.60,76.21 L188.80,77.72 L189.00,79.24 L189.20,80.75 L189.40,82.27 L189.60,83.79 L189.80,85.31 L190.00,86.83 L190.20,88.35 L190.40,89.86 L190.60,91.37 L190.80,92.87 L191.00,94.37 L191.20,95.86 L191.40,97.35 L191.60,98.82 L191.80,100.29 L192.00,101.75 L192.20,103.20 L192.40,104.64 L192.60,106.06 L192.80,107.48 L193.00,108.88 L193.20,110.27 L193.40,111.65 L193.60,113.02 L193.80,114.38 L194.00,115.72 L194.20,117.05 L194.40,118.36 L194.60,119.66 L194.80,120.95 L195.00,122.23 L195.20,123.49 L195.40,124.74 L195.60,125.97 L195.80,127.19 L196.00,128.40 L196.20,129.60 L196.40,130.78 L196.60,131.95 L196.80,133.10 L197.00,134.24 L197.20,135.37 L197.40,136.49 L197.60,137.60 L197.80,138.69 L198.00,139.77 L198.20,140.83 L198.40,141.89 L198.60,142.93 L198.80,143.96 L199.00,144.98 L199.20,145.99 L199.40,146.98 L199.60,147.97 L199.80,148.94 L200.00,149.90 L200.20,150.86 L200.40,151.80 L200.60,152.73 L200.80,153.64 L201.00,154.55 L201.20,155.45 L201.40,156.34 L201.60,157.22 L201.80,158.08 L202.00,158.94 L202.20,159.79 L202.40,160.63 L202.60,161.46 L202.80,162.27 L203.00,163.08 L203.20,163.88 L203.40,164.68 L203.60,165.46 L203.80,166.23 L204.00,166.99 L204.20,167.75 L204.40,168.50 L204.60,169.24 L204.80,169.97 L205.00,170.69 L205.20,171.40 L205.40,172.11 L205.60,172.80 L205.80,173.49 L206.00,174.17 L206.20,174.85 L206.40,175.51 L206.60,176.17 L206.80,176.82 L207.00,177.46 L207.20,178.10 L207.40,178.73 L207.60,179.35 L207.80,179.96 L208.00,180.57 L208.20,181.17 L208.40,181.76 L208.60,182.35 L208.80,182.93 L209.00,183.50 L209.20,184.07 L209.40,184.63 L209.60,185.18 L209.80,185.73 L210.00,186.27 L210.20,186.81 L210.40,187.34 L210.60,187.86 L210.80,188.37 L211.00,188.89 L211.20,189.39 L211.40,189.89 L211.60,190.38 L211.80,190.87 L212.00,191.35 L212.20,191.83 L212.40,192.30 L212.60,192.77 L212.80,193.23 L213.00,193.68 L213.20,194.13 L213.40,194.58 L213.60,195.02 L213.80,195.45 L214.00,195.88 L214.20,196.31 L214.40,196.73 L214.60,197.14 L214.80,197.55 L215.00,197.96 L215.20,198.36 L215.40,198.76 L215.60,199.15 L215.80,199.54 L216.00,199.92 L216.20,200.30 L216.40,200.67 L216.60,201.04 L216.80,201.41 L217.00,201.77 L217.20,202.13 L217.40,202.48 L217.60,202.83 L217.80,203.18 L218.00,203.52 L218.20,203.85 L218.40,204.19 L218.60,204.52 L218.80,204.84 L219.00,205.17 L219.20,205.48 L219.40,205.80 L219.60,206.11 L219.80,206.42 L220.00,206.72 L220.20,207.02 L220.40,207.32 L220.60,207.61 L220.80,207.91 L221.00,208.19 L221.20,208.48 L221.40,208.76 L221.60,209.03 L221.80,209.31 L222.00,209.58 L222.20,209.85 L222.40,210.11 L222.60,210.38 L222.80,210.63 L223.00,210.89 L223.20,211.14 L223.40,211.39 L223.60,211.64 L223.80,211.89 L224.00,212.13 L224.20,212.37 L224.40,212.60 L224.60,212.84 L224.80,213.07 L225.00,213.29 L225.20,213.52 L225.40,213.74 L225.60,213.96 L225.80,214.18 L226.00,214.40 L226.20,214.61 L226.40,214.82 L226.60,215.03 L226.80,215.23 L227.00,215.44 L227.20,215.64 L227.40,215.84 L227.60,216.03 L227.80,216.23 L228.00,216.42 L228.20,216.61 L228.40,216.80 L228.60,216.98 L228.80,217.17 L229.00,217.35 L229.20,217.53 L229.40,217.70 L229.60,217.88 L229.80,218.05 L230.00,218.22 L230.20,218.39 L230.40,218.56 L230.60,218.72 L230.80,218.89 L231.00,219.05 L231.20,219.21 L231.40,219.37 L231.60,219.52 L231.80,219.68 L232.00,219.83 L232.20,219.98 L232.40,220.13 L232.60,220.28 L232.80,220.42 L233.00,220.57 L233.20,220.71 L233.40,220.85 L233.60,220.99 L233.80,221.13 L234.00,221.26 L234.20,221.40 L234.40,221.53 L234.60,221.66 L234.80,221.79 L235.00,221.92 L235.20,222.05 L235.40,222.17 L235.60,222.30 L235.80,222.42 L236.00,222.54 L236.20,222.66 L236.40,222.78 L236.60,222.89 L236.80,223.01 L237.00,223.12 L237.20,223.24 L237.40,223.35 L237.60,223.46 L237.80,223.57 L238.00,223.68 L238.20,223.78 L238.40,223.89 L238.60,223.99 L238.80,224.10 L239.00,224.20 L239.20,224.30 L239.40,224.40 L239.60,224.50 L239.80,224.59 L240.00,224.69 L240.20,224.79 L240.40,224.88 L240.60,224.97 L240.80,225.06 L241.00,225.16 L241.20,225.25 L241.40,225.33 L241.60,225.42 L241.80,225.51 L242.00,225.59 L242.20,225.68 L242.40,225.76 L242.60,225.85 L242.80,225.93 L243.00,226.01 L243.20,226.09 L243.40,226.17 L243.60,226.25 L243.80,226.32 L244.00,226.40 L244.20,226.48 L244.40,226.55 L244.60,226.62 L244.80,226.70 L245.00,226.77 L245.20,226.84 L245.40,226.91 L245.60,226.98 L245.80,227.05 L246.00,227.12 L246.20,227.18 L246.40,227.25 L246.60,227.32 L246.80,227.38 L247.00,227.45 L247.20,227.51 L247.40,227.57 L247.60,227.63 L247.80,227.70 L248.00,227.76 L248.20,227.82 L248.40,227.88 L248.60,227.94 L248.80,227.99 L249.00,228.05 L249.20,228.11 L249.40,228.16 L249.60,228.22 L249.80,228.27 L250.00,228.33 L250.20,228.38 L250.40,228.43 L250.60,228.49 L250.80,228.54 L251.00,228.59 L251.20,228.64 L251.40,228.69 L251.60,228.74 L251.80,228.79 L252.00,228.84 L252.20,228.88 L252.40,228.93 L252.60,228.98 L252.80,229.02 L253.00,229.07 L253.20,229.11 L253.40,229.16 L253.60,229.20 L253.80,229.25 L254.00,229.29 L254.20,229.33 L254.40,229.37 L254.60,229.41 L254.80,229.46 L255.00,229.50 L255.20,229.54 L255.40,229.58 L255.60,229.61 L255.80,229.65 L256.00,229.69 L256.20,229.73 L256.40,229.77 L256.60,229.80 L256.80,229.84 L257.00,229.88 L257.20,229.91 L257.40,229.95 L257.60,229.98 L257.80,230.02 L258.00,230.05 L258.20,230.09 L258.40,230.12 L258.60,230.15 L258.80,230.18 L259.00,230.22 L259.20,230.25 L259.40,230.28 L259.60,230.31 L259.80,230.34 L260.00,230.37 L260.20,230.40 L260.40,230.43 L260.60,230.46 L260.80,230.49 L261.00,230.52 L261.20,230.55 L261.40,230.58 L261.60,230.60 L261.80,230.63 L262.00,230.66 L262.20,230.68 L262.40,230.71 L262.60,230.74 L262.80,230.76 L263.00,230.79 L263.20,230.81 L263.40,230.84 L263.60,230.86 L263.80,230.89 L264.00,230.91 L264.20,230.94 L264.40,230.96 L264.60,230.98 L264.80,231.01 L265.00,231.03 L265.20,231.05 L265.40,231.07 L265.60,231.10 L265.80,231.12 L266.00,231.14 L266.20,231.16 L266.40,231.18 L266.60,231.20 L266.80,231.22 L267.00,231.24 L267.20,231.26 L267.40,231.28 L267.60,231.30 L267.80,231.32 L268.00,231.34 L268.20,231.36 L268.40,231.38 L268.60,231.40 L268.80,231.42 L269.00,231.43 L269.20,231.45 L269.40,231.47 L269.60,231.49 L269.80,231.51 L270.00,231.52 L270.20,231.54 L270.40,231.56 L270.60,231.57 L270.80,231.59 L271.00,231.60 L271.20,231.62 L271.40,231.64 L271.60,231.65 L271.80,231.67 L272.00,231.68 L272.20,231.70 L272.40,231.71 L272.60,231.73 L272.80,231.74 L273.00,231.76 L273.20,231.77 L273.40,231.78 L273.60,231.80 L273.80,231.81 L274.00,231.83 L274.20,231.84 L274.40,231.85 L274.60,231.87 L274.80,231.88 L275.00,231.89 L275.20,231.90 L275.40,231.92 L275.60,231.93 L275.80,231.94 L276.00,231.95 L276.20,231.97 L276.40,231.98 L276.60,231.99 L276.80,232.00 L277.00,232.01 L277.20,232.02 L277.40,232.03 L277.60,232.05 L277.80,232.06 L278.00,232.07 L278.20,232.08 L278.40,232.09 L278.60,232.10 L278.80,232.11 L279.00,232.12 L279.20,232.13 L279.40,232.14 L279.60,232.15 L279.80,232.16 L280.00,232.17 L280.20,232.18 L280.40,232.19 L280.60,232.20 L280.80,232.21 L281.00,232.22 L281.20,232.22 L281.40,232.23 L281.60,232.24 L281.80,232.25 L282.00,232.26 L282.20,232.27 L282.40,232.28 L282.60,232.28 L282.80,232.29 L283.00,232.30 L283.20,232.31 L283.40,232.32 L283.60,232.32 L283.80,232.33 L284.00,232.34 L284.20,232.35 L284.40,232.35 L284.60,232.36 L284.80,232.37 L285.00,232.38 L285.20,232.38 L285.40,232.39 L285.60,232.40 L285.80,232.40 L286.00,232.41 L286.20,232.42 L286.40,232.43 L286.60,232.43 L286.80,232.44 L287.00,232.44 L287.20,232.45 L287.40,232.46 L287.60,232.46 L287.80,232.47 L288.00,232.48 L288.20,232.48 L288.40,232.49 L288.60,232.49 L288.80,232.50 L289.00,232.51 L289.20,232.51 L289.40,232.52 L289.60,232.52 L289.80,232.53 L290.00,232.53 L290.20,232.54 L290.40,232.54 L290.60,232.55 L290.80,232.55 L291.00,232.56 L291.20,232.56 L291.40,232.57 L291.60,232.57 L291.80,232.58 L292.00,232.58" fill="none" stroke="#0eae4e" stroke-width="1.7" stroke-linecap="round" stroke-dasharray="4.6 6.45" stroke-dashoffset="7.08" stroke-linejoin="round"/>
<path d="M52.00,219.35 L52.20,219.35 L52.40,219.34 L52.60,219.34 L52.80,219.34 L53.00,219.34 L53.20,219.33 L53.40,219.33 L53.60,219.33 L53.80,219.32 L54.00,219.32 L54.20,219.32 L54.40,219.31 L54.60,219.31 L54.80,219.31 L55.00,219.31 L55.20,219.30 L55.40,219.30 L55.60,219.30 L55.80,219.29 L56.00,219.29 L56.20,219.29 L56.40,219.28 L56.60,219.28 L56.80,219.28 L57.00,219.27 L57.20,219.27 L57.40,219.26 L57.60,219.26 L57.80,219.26 L58.00,219.25 L58.20,219.25 L58.40,219.25 L58.60,219.24 L58.80,219.24 L59.00,219.23 L59.20,219.23 L59.40,219.23 L59.60,219.22 L59.80,219.22 L60.00,219.21 L60.20,219.21 L60.40,219.20 L60.60,219.20 L60.80,219.20 L61.00,219.19 L61.20,219.19 L61.40,219.18 L61.60,219.18 L61.80,219.17 L62.00,219.17 L62.20,219.16 L62.40,219.16 L62.60,219.15 L62.80,219.15 L63.00,219.14 L63.20,219.14 L63.40,219.13 L63.60,219.13 L63.80,219.12 L64.00,219.12 L64.20,219.11 L64.40,219.11 L64.60,219.10 L64.80,219.10 L65.00,219.09 L65.20,219.08 L65.40,219.08 L65.60,219.07 L65.80,219.07 L66.00,219.06 L66.20,219.06 L66.40,219.05 L66.60,219.04 L66.80,219.04 L67.00,219.03 L67.20,219.02 L67.40,219.02 L67.60,219.01 L67.80,219.00 L68.00,219.00 L68.20,218.99 L68.40,218.98 L68.60,218.98 L68.80,218.97 L69.00,218.96 L69.20,218.96 L69.40,218.95 L69.60,218.94 L69.80,218.93 L70.00,218.93 L70.20,218.92 L70.40,218.91 L70.60,218.90 L70.80,218.90 L71.00,218.89 L71.20,218.88 L71.40,218.87 L71.60,218.86 L71.80,218.85 L72.00,218.85 L72.20,218.84 L72.40,218.83 L72.60,218.82 L72.80,218.81 L73.00,218.80 L73.20,218.79 L73.40,218.78 L73.60,218.78 L73.80,218.77 L74.00,218.76 L74.20,218.75 L74.40,218.74 L74.60,218.73 L74.80,218.72 L75.00,218.71 L75.20,218.70 L75.40,218.69 L75.60,218.68 L75.80,218.67 L76.00,218.66 L76.20,218.65 L76.40,218.63 L76.60,218.62 L76.80,218.61 L77.00,218.60 L77.20,218.59 L77.40,218.58 L77.60,218.57 L77.80,218.56 L78.00,218.54 L78.20,218.53 L78.40,218.52 L78.60,218.51 L78.80,218.49 L79.00,218.48 L79.20,218.47 L79.40,218.46 L79.60,218.44 L79.80,218.43 L80.00,218.42 L80.20,218.40 L80.40,218.39 L80.60,218.38 L80.80,218.36 L81.00,218.35 L81.20,218.33 L81.40,218.32 L81.60,218.30 L81.80,218.29 L82.00,218.27 L82.20,218.26 L82.40,218.24 L82.60,218.23 L82.80,218.21 L83.00,218.20 L83.20,218.18 L83.40,218.16 L83.60,218.15 L83.80,218.13 L84.00,218.11 L84.20,218.10 L84.40,218.08 L84.60,218.06 L84.80,218.05 L85.00,218.03 L85.20,218.01 L85.40,217.99 L85.60,217.97 L85.80,217.95 L86.00,217.94 L86.20,217.92 L86.40,217.90 L86.60,217.88 L86.80,217.86 L87.00,217.84 L87.20,217.82 L87.40,217.80 L87.60,217.78 L87.80,217.76 L88.00,217.73 L88.20,217.71 L88.40,217.69 L88.60,217.67 L88.80,217.65 L89.00,217.63 L89.20,217.60 L89.40,217.58 L89.60,217.56 L89.80,217.53 L90.00,217.51 L90.20,217.49 L90.40,217.46 L90.60,217.44 L90.80,217.41 L91.00,217.39 L91.20,217.36 L91.40,217.34 L91.60,217.31 L91.80,217.28 L92.00,217.26 L92.20,217.23 L92.40,217.20 L92.60,217.17 L92.80,217.15 L93.00,217.12 L93.20,217.09 L93.40,217.06 L93.60,217.03 L93.80,217.00 L94.00,216.97 L94.20,216.94 L94.40,216.91 L94.60,216.88 L94.80,216.85 L95.00,216.82 L95.20,216.79 L95.40,216.75 L95.60,216.72 L95.80,216.69 L96.00,216.65 L96.20,216.62 L96.40,216.59 L96.60,216.55 L96.80,216.52 L97.00,216.48 L97.20,216.45 L97.40,216.41 L97.60,216.37 L97.80,216.33 L98.00,216.30 L98.20,216.26 L98.40,216.22 L98.60,216.18 L98.80,216.14 L99.00,216.10 L99.20,216.06 L99.40,216.02 L99.60,215.98 L99.80,215.94 L100.00,215.90 L100.20,215.85 L100.40,215.81 L100.60,215.77 L100.80,215.72 L101.00,215.68 L101.20,215.63 L101.40,215.59 L101.60,215.54 L101.80,215.49 L102.00,215.45 L102.20,215.40 L102.40,215.35 L102.60,215.30 L102.80,215.25 L103.00,215.20 L103.20,215.15 L103.40,215.10 L103.60,215.05 L103.80,215.00 L104.00,214.94 L104.20,214.89 L104.40,214.83 L104.60,214.78 L104.80,214.72 L105.00,214.67 L105.20,214.61 L105.40,214.55 L105.60,214.50 L105.80,214.44 L106.00,214.38 L106.20,214.32 L106.40,214.26 L106.60,214.19 L106.80,214.13 L107.00,214.07 L107.20,214.00 L107.40,213.94 L107.60,213.87 L107.80,213.81 L108.00,213.74 L108.20,213.67 L108.40,213.61 L108.60,213.54 L108.80,213.47 L109.00,213.40 L109.20,213.32 L109.40,213.25 L109.60,213.18 L109.80,213.10 L110.00,213.03 L110.20,212.95 L110.40,212.88 L110.60,212.80 L110.80,212.72 L111.00,212.64 L111.20,212.56 L111.40,212.48 L111.60,212.40 L111.80,212.31 L112.00,212.23 L112.20,212.15 L112.40,212.06 L112.60,211.97 L112.80,211.88 L113.00,211.80 L113.20,211.71 L113.40,211.61 L113.60,211.52 L113.80,211.43 L114.00,211.33 L114.20,211.24 L114.40,211.14 L114.60,211.04 L114.80,210.95 L115.00,210.85 L115.20,210.74 L115.40,210.64 L115.60,210.54 L115.80,210.43 L116.00,210.33 L116.20,210.22 L116.40,210.11 L116.60,210.00 L116.80,209.89 L117.00,209.78 L117.20,209.67 L117.40,209.55 L117.60,209.44 L117.80,209.32 L118.00,209.20 L118.20,209.08 L118.40,208.96 L118.60,208.84 L118.80,208.71 L119.00,208.59 L119.20,208.46 L119.40,208.33 L119.60,208.20 L119.80,208.07 L120.00,207.94 L120.20,207.80 L120.40,207.66 L120.60,207.53 L120.80,207.39 L121.00,207.25 L121.20,207.10 L121.40,206.96 L121.60,206.81 L121.80,206.67 L122.00,206.52 L122.20,206.37 L122.40,206.21 L122.60,206.06 L122.80,205.90 L123.00,205.74 L123.20,205.58 L123.40,205.42 L123.60,205.26 L123.80,205.09 L124.00,204.93 L124.20,204.76 L124.40,204.59 L124.60,204.41 L124.80,204.24 L125.00,204.06 L125.20,203.88 L125.40,203.70 L125.60,203.52 L125.80,203.33 L126.00,203.14 L126.20,202.95 L126.40,202.76 L126.60,202.57 L126.80,202.37 L127.00,202.17 L127.20,201.97 L127.40,201.77 L127.60,201.56 L127.80,201.35 L128.00,201.14 L128.20,200.93 L128.40,200.72 L128.60,200.50 L128.80,200.28 L129.00,200.06 L129.20,199.83 L129.40,199.60 L129.60,199.37 L129.80,199.14 L130.00,198.90 L130.20,198.66 L130.40,198.42 L130.60,198.18 L130.80,197.93 L131.00,197.68 L131.20,197.43 L131.40,197.18 L131.60,196.92 L131.80,196.66 L132.00,196.39 L132.20,196.13 L132.40,195.86 L132.60,195.58 L132.80,195.31 L133.00,195.03 L133.20,194.74 L133.40,194.46 L133.60,194.17 L133.80,193.88 L134.00,193.58 L134.20,193.28 L134.40,192.98 L134.60,192.68 L134.80,192.37 L135.00,192.05 L135.20,191.74 L135.40,191.42 L135.60,191.09 L135.80,190.77 L136.00,190.44 L136.20,190.10 L136.40,189.76 L136.60,189.42 L136.80,189.08 L137.00,188.73 L137.20,188.37 L137.40,188.01 L137.60,187.65 L137.80,187.29 L138.00,186.92 L138.20,186.54 L138.40,186.17 L138.60,185.78 L138.80,185.40 L139.00,185.01 L139.20,184.61 L139.40,184.21 L139.60,183.81 L139.80,183.40 L140.00,182.98 L140.20,182.57 L140.40,182.14 L140.60,181.72 L140.80,181.29 L141.00,180.85 L141.20,180.41 L141.40,179.96 L141.60,179.51 L141.80,179.05 L142.00,178.59 L142.20,178.13 L142.40,177.66 L142.60,177.18 L142.80,176.70 L143.00,176.21 L143.20,175.72 L143.40,175.22 L143.60,174.72 L143.80,174.21 L144.00,173.70 L144.20,173.18 L144.40,172.65 L144.60,172.12 L144.80,171.59 L145.00,171.04 L145.20,170.50 L145.40,169.94 L145.60,169.38 L145.80,168.82 L146.00,168.25 L146.20,167.67 L146.40,167.08 L146.60,166.49 L146.80,165.90 L147.00,165.30 L147.20,164.69 L147.40,164.07 L147.60,163.45 L147.80,162.82 L148.00,162.19 L148.20,161.55 L148.40,160.90 L148.60,160.25 L148.80,159.58 L149.00,158.92 L149.20,158.24 L149.40,157.56 L149.60,156.87 L149.80,156.18 L150.00,155.48 L150.20,154.77 L150.40,154.05 L150.60,153.33 L150.80,152.60 L151.00,151.86 L151.20,151.12 L151.40,150.36 L151.60,149.60 L151.80,148.84 L152.00,148.06 L152.20,147.28 L152.40,146.49 L152.60,145.70 L152.80,144.89 L153.00,144.08 L153.20,143.26 L153.40,142.43 L153.60,141.60 L153.80,140.76 L154.00,139.91 L154.20,139.05 L154.40,138.19 L154.60,137.31 L154.80,136.43 L155.00,135.54 L155.20,134.65 L155.40,133.74 L155.60,132.83 L155.80,131.91 L156.00,130.99 L156.20,130.05 L156.40,129.11 L156.60,128.16 L156.80,127.20 L157.00,126.23 L157.20,125.26 L157.40,124.28 L157.60,123.29 L157.80,122.29 L158.00,121.29 L158.20,120.28 L158.40,119.26 L158.60,118.23 L158.80,117.20 L159.00,116.16 L159.20,115.11 L159.40,114.05 L159.60,112.99 L159.80,111.92 L160.00,110.84 L160.20,109.76 L160.40,108.67 L160.60,107.57 L160.80,106.47 L161.00,105.36 L161.20,104.24 L161.40,103.12 L161.60,101.99 L161.80,100.85 L162.00,99.71 L162.20,98.56 L162.40,97.41 L162.60,96.26 L162.80,95.09 L163.00,93.93 L163.20,92.75 L163.40,91.58 L163.60,90.40 L163.80,89.21 L164.00,88.02 L164.20,86.83 L164.40,85.64 L164.60,84.44 L164.80,83.24 L165.00,82.03 L165.20,80.83 L165.40,79.62 L165.60,78.41 L165.80,77.20 L166.00,75.99 L166.20,74.77 L166.40,73.56 L166.60,72.35 L166.80,71.14 L167.00,69.93 L167.20,68.72 L167.40,67.51 L167.60,66.30 L167.80,65.10 L168.00,63.90 L168.20,62.71 L168.40,61.51 L168.60,60.33 L168.80,59.14 L169.00,57.97 L169.20,56.80 L169.40,55.63 L169.60,54.48 L169.80,53.33 L170.00,52.19 L170.20,51.06 L170.40,49.94 L170.60,48.83 L170.80,47.73 L171.00,46.64 L171.20,45.56 L171.40,44.50 L171.60,43.45 L171.80,42.42 L172.00,41.40 L172.20,40.39 L172.40,39.41 L172.60,38.43 L172.80,37.48 L173.00,36.55 L173.20,35.63 L173.40,34.74 L173.60,33.87 L173.80,33.02 L174.00,32.19 L174.20,31.38 L174.40,30.60 L174.60,29.84 L174.80,29.11 L175.00,28.41 L175.20,27.73 L175.40,27.08 L175.60,26.46 L175.80,25.87 L176.00,25.31 L176.20,24.78 L176.40,24.28 L176.60,23.82 L176.80,23.38 L177.00,22.98 L177.20,22.62 L177.40,22.29 L177.60,22.00 L177.80,21.74 L178.00,21.52 L178.20,21.33 L178.40,21.19 L178.60,21.08 L178.80,21.01 L179.00,20.99 L179.20,21.00 L179.40,21.05 L179.60,21.14 L179.80,21.27 L180.00,21.45 L180.20,21.66 L180.40,21.92 L180.60,22.21 L180.80,22.55 L181.00,22.93 L181.20,23.35 L181.40,23.82 L181.60,24.32 L181.80,24.86 L182.00,25.45 L182.20,26.08 L182.40,26.74 L182.60,27.45 L182.80,28.19 L183.00,28.98 L183.20,29.80 L183.40,30.66 L183.60,31.56 L183.80,32.49 L184.00,33.46 L184.20,34.46 L184.40,35.50 L184.60,36.57 L184.80,37.67 L185.00,38.80 L185.20,39.96 L185.40,41.15 L185.60,42.37 L185.80,43.62 L186.00,44.88 L186.20,46.18 L186.40,47.49 L186.60,48.83 L186.80,50.19 L187.00,51.56 L187.20,52.96 L187.40,54.37 L187.60,55.79 L187.80,57.23 L188.00,58.68 L188.20,60.14 L188.40,61.61 L188.60,63.09 L188.80,64.57 L189.00,66.06 L189.20,67.56 L189.40,69.06 L189.60,70.56 L189.80,72.06 L190.00,73.57 L190.20,75.07 L190.40,76.57 L190.60,78.06 L190.80,79.56 L191.00,81.04 L191.20,82.52 L191.40,84.00 L191.60,85.47 L191.80,86.93 L192.00,88.38 L192.20,89.82 L192.40,91.25 L192.60,92.68 L192.80,94.09 L193.00,95.49 L193.20,96.88 L193.40,98.25 L193.60,99.62 L193.80,100.97 L194.00,102.31 L194.20,103.64 L194.40,104.95 L194.60,106.25 L194.80,107.54 L195.00,108.81 L195.20,110.07 L195.40,111.32 L195.60,112.56 L195.80,113.78 L196.00,114.99 L196.20,116.18 L196.40,117.36 L196.60,118.53 L196.80,119.68 L197.00,120.83 L197.20,121.96 L197.40,123.07 L197.60,124.18 L197.80,125.27 L198.00,126.35 L198.20,127.42 L198.40,128.47 L198.60,129.51 L198.80,130.54 L199.00,131.56 L199.20,132.57 L199.40,133.57 L199.60,134.55 L199.80,135.52 L200.00,136.49 L200.20,137.44 L200.40,138.38 L200.60,139.31 L200.80,140.23 L201.00,141.13 L201.20,142.03 L201.40,142.92 L201.60,143.80 L201.80,144.67 L202.00,145.52 L202.20,146.37 L202.40,147.21 L202.60,148.04 L202.80,148.86 L203.00,149.67 L203.20,150.47 L203.40,151.26 L203.60,152.04 L203.80,152.81 L204.00,153.58 L204.20,154.33 L204.40,155.08 L204.60,155.82 L204.80,156.55 L205.00,157.27 L205.20,157.98 L205.40,158.69 L205.60,159.38 L205.80,160.07 L206.00,160.75 L206.20,161.43 L206.40,162.09 L206.60,162.75 L206.80,163.40 L207.00,164.05 L207.20,164.68 L207.40,165.31 L207.60,165.93 L207.80,166.54 L208.00,167.15 L208.20,167.75 L208.40,168.35 L208.60,168.93 L208.80,169.51 L209.00,170.08 L209.20,170.65 L209.40,171.21 L209.60,171.77 L209.80,172.31 L210.00,172.85 L210.20,173.39 L210.40,173.92 L210.60,174.44 L210.80,174.96 L211.00,175.47 L211.20,175.97 L211.40,176.47 L211.60,176.97 L211.80,177.45 L212.00,177.94 L212.20,178.41 L212.40,178.88 L212.60,179.35 L212.80,179.81 L213.00,180.27 L213.20,180.72 L213.40,181.16 L213.60,181.60 L213.80,182.03 L214.00,182.46 L214.20,182.89 L214.40,183.31 L214.60,183.72 L214.80,184.13 L215.00,184.54 L215.20,184.94 L215.40,185.34 L215.60,185.73 L215.80,186.12 L216.00,186.50 L216.20,186.88 L216.40,187.25 L216.60,187.62 L216.80,187.99 L217.00,188.35 L217.20,188.71 L217.40,189.06 L217.60,189.41 L217.80,189.76 L218.00,190.10 L218.20,190.44 L218.40,190.77 L218.60,191.10 L218.80,191.43 L219.00,191.75 L219.20,192.07 L219.40,192.38 L219.60,192.69 L219.80,193.00 L220.00,193.30 L220.20,193.61 L220.40,193.90 L220.60,194.20 L220.80,194.49 L221.00,194.77 L221.20,195.06 L221.40,195.34 L221.60,195.62 L221.80,195.89 L222.00,196.16 L222.20,196.43 L222.40,196.70 L222.60,196.96 L222.80,197.22 L223.00,197.47 L223.20,197.73 L223.40,197.98 L223.60,198.22 L223.80,198.47 L224.00,198.71 L224.20,198.95 L224.40,199.18 L224.60,199.42 L224.80,199.65 L225.00,199.88 L225.20,200.10 L225.40,200.33 L225.60,200.55 L225.80,200.76 L226.00,200.98 L226.20,201.19 L226.40,201.40 L226.60,201.61 L226.80,201.82 L227.00,202.02 L227.20,202.22 L227.40,202.42 L227.60,202.62 L227.80,202.81 L228.00,203.00 L228.20,203.19 L228.40,203.38 L228.60,203.56 L228.80,203.75 L229.00,203.93 L229.20,204.11 L229.40,204.29 L229.60,204.46 L229.80,204.63 L230.00,204.81 L230.20,204.97 L230.40,205.14 L230.60,205.31 L230.80,205.47 L231.00,205.63 L231.20,205.79 L231.40,205.95 L231.60,206.11 L231.80,206.26 L232.00,206.41 L232.20,206.56 L232.40,206.71 L232.60,206.86 L232.80,207.00 L233.00,207.15 L233.20,207.29 L233.40,207.43 L233.60,207.57 L233.80,207.71 L234.00,207.84 L234.20,207.98 L234.40,208.11 L234.60,208.24 L234.80,208.37 L235.00,208.50 L235.20,208.63 L235.40,208.75 L235.60,208.88 L235.80,209.00 L236.00,209.12 L236.20,209.24 L236.40,209.36 L236.60,209.48 L236.80,209.59 L237.00,209.71 L237.20,209.82 L237.40,209.93 L237.60,210.04 L237.80,210.15 L238.00,210.26 L238.20,210.37 L238.40,210.47 L238.60,210.57 L238.80,210.68 L239.00,210.78 L239.20,210.88 L239.40,210.98 L239.60,211.08 L239.80,211.18 L240.00,211.27 L240.20,211.37 L240.40,211.46 L240.60,211.55 L240.80,211.65 L241.00,211.74 L241.20,211.83 L241.40,211.92 L241.60,212.00 L241.80,212.09 L242.00,212.18 L242.20,212.26 L242.40,212.34 L242.60,212.43 L242.80,212.51 L243.00,212.59 L243.20,212.67 L243.40,212.75 L243.60,212.83 L243.80,212.90 L244.00,212.98 L244.20,213.06 L244.40,213.13 L244.60,213.21 L244.80,213.28 L245.00,213.35 L245.20,213.42 L245.40,213.49 L245.60,213.56 L245.80,213.63 L246.00,213.70 L246.20,213.77 L246.40,213.83 L246.60,213.90 L246.80,213.96 L247.00,214.03 L247.20,214.09 L247.40,214.15 L247.60,214.22 L247.80,214.28 L248.00,214.34 L248.20,214.40 L248.40,214.46 L248.60,214.52 L248.80,214.57 L249.00,214.63 L249.20,214.69 L249.40,214.74 L249.60,214.80 L249.80,214.85 L250.00,214.91 L250.20,214.96 L250.40,215.02 L250.60,215.07 L250.80,215.12 L251.00,215.17 L251.20,215.22 L251.40,215.27 L251.60,215.32 L251.80,215.37 L252.00,215.42 L252.20,215.46 L252.40,215.51 L252.60,215.56 L252.80,215.60 L253.00,215.65 L253.20,215.70 L253.40,215.74 L253.60,215.78 L253.80,215.83 L254.00,215.87 L254.20,215.91 L254.40,215.95 L254.60,216.00 L254.80,216.04 L255.00,216.08 L255.20,216.12 L255.40,216.16 L255.60,216.20 L255.80,216.24 L256.00,216.27 L256.20,216.31 L256.40,216.35 L256.60,216.39 L256.80,216.42 L257.00,216.46 L257.20,216.49 L257.40,216.53 L257.60,216.56 L257.80,216.60 L258.00,216.63 L258.20,216.67 L258.40,216.70 L258.60,216.73 L258.80,216.77 L259.00,216.80 L259.20,216.83 L259.40,216.86 L259.60,216.89 L259.80,216.92 L260.00,216.95 L260.20,216.98 L260.40,217.01 L260.60,217.04 L260.80,217.07 L261.00,217.10 L261.20,217.13 L261.40,217.16 L261.60,217.19 L261.80,217.21 L262.00,217.24 L262.20,217.27 L262.40,217.29 L262.60,217.32 L262.80,217.35 L263.00,217.37 L263.20,217.40 L263.40,217.42 L263.60,217.45 L263.80,217.47 L264.00,217.49 L264.20,217.52 L264.40,217.54 L264.60,217.57 L264.80,217.59 L265.00,217.61 L265.20,217.63 L265.40,217.66 L265.60,217.68 L265.80,217.70 L266.00,217.72 L266.20,217.74 L266.40,217.76 L266.60,217.78 L266.80,217.81 L267.00,217.83 L267.20,217.85 L267.40,217.87 L267.60,217.89 L267.80,217.90 L268.00,217.92 L268.20,217.94 L268.40,217.96 L268.60,217.98 L268.80,218.00 L269.00,218.02 L269.20,218.03 L269.40,218.05 L269.60,218.07 L269.80,218.09 L270.00,218.10 L270.20,218.12 L270.40,218.14 L270.60,218.15 L270.80,218.17 L271.00,218.19 L271.20,218.20 L271.40,218.22 L271.60,218.23 L271.80,218.25 L272.00,218.26 L272.20,218.28 L272.40,218.29 L272.60,218.31 L272.80,218.32 L273.00,218.34 L273.20,218.35 L273.40,218.37 L273.60,218.38 L273.80,218.39 L274.00,218.41 L274.20,218.42 L274.40,218.43 L274.60,218.45 L274.80,218.46 L275.00,218.47 L275.20,218.49 L275.40,218.50 L275.60,218.51 L275.80,218.52 L276.00,218.54 L276.20,218.55 L276.40,218.56 L276.60,218.57 L276.80,218.58 L277.00,218.59 L277.20,218.61 L277.40,218.62 L277.60,218.63 L277.80,218.64 L278.00,218.65 L278.20,218.66 L278.40,218.67 L278.60,218.68 L278.80,218.69 L279.00,218.70 L279.20,218.71 L279.40,218.72 L279.60,218.73 L279.80,218.74 L280.00,218.75 L280.20,218.76 L280.40,218.77 L280.60,218.78 L280.80,218.79 L281.00,218.80 L281.20,218.81 L281.40,218.82 L281.60,218.82 L281.80,218.83 L282.00,218.84 L282.20,218.85 L282.40,218.86 L282.60,218.87 L282.80,218.87 L283.00,218.88 L283.20,218.89 L283.40,218.90 L283.60,218.91 L283.80,218.91 L284.00,218.92 L284.20,218.93 L284.40,218.94 L284.60,218.94 L284.80,218.95 L285.00,218.96 L285.20,218.97 L285.40,218.97 L285.60,218.98 L285.80,218.99 L286.00,218.99 L286.20,219.00 L286.40,219.01 L286.60,219.01 L286.80,219.02 L287.00,219.03 L287.20,219.03 L287.40,219.04 L287.60,219.05 L287.80,219.05 L288.00,219.06 L288.20,219.06 L288.40,219.07 L288.60,219.08 L288.80,219.08 L289.00,219.09 L289.20,219.09 L289.40,219.10 L289.60,219.10 L289.80,219.11 L290.00,219.11 L290.20,219.12 L290.40,219.13 L290.60,219.13 L290.80,219.14 L291.00,219.14 L291.20,219.15 L291.40,219.15 L291.60,219.16 L291.80,219.16 L292.00,219.17" fill="none" stroke="#ffc000" stroke-width="1.7" stroke-dasharray="4.8 1.55" stroke-linejoin="round"/>
<path d="M52.00,232.77 L52.20,232.76 L52.40,232.76 L52.60,232.76 L52.80,232.76 L53.00,232.75 L53.20,232.75 L53.40,232.75 L53.60,232.75 L53.80,232.74 L54.00,232.74 L54.20,232.74 L54.40,232.73 L54.60,232.73 L54.80,232.73 L55.00,232.72 L55.20,232.72 L55.40,232.72 L55.60,232.71 L55.80,232.71 L56.00,232.71 L56.20,232.70 L56.40,232.70 L56.60,232.70 L56.80,232.69 L57.00,232.69 L57.20,232.69 L57.40,232.68 L57.60,232.68 L57.80,232.68 L58.00,232.67 L58.20,232.67 L58.40,232.66 L58.60,232.66 L58.80,232.66 L59.00,232.65 L59.20,232.65 L59.40,232.64 L59.60,232.64 L59.80,232.64 L60.00,232.63 L60.20,232.63 L60.40,232.62 L60.60,232.62 L60.80,232.61 L61.00,232.61 L61.20,232.61 L61.40,232.60 L61.60,232.60 L61.80,232.59 L62.00,232.59 L62.20,232.58 L62.40,232.58 L62.60,232.57 L62.80,232.57 L63.00,232.56 L63.20,232.56 L63.40,232.55 L63.60,232.55 L63.80,232.54 L64.00,232.54 L64.20,232.53 L64.40,232.53 L64.60,232.52 L64.80,232.51 L65.00,232.51 L65.20,232.50 L65.40,232.50 L65.60,232.49 L65.80,232.49 L66.00,232.48 L66.20,232.47 L66.40,232.47 L66.60,232.46 L66.80,232.45 L67.00,232.45 L67.20,232.44 L67.40,232.44 L67.60,232.43 L67.80,232.42 L68.00,232.42 L68.20,232.41 L68.40,232.40 L68.60,232.40 L68.80,232.39 L69.00,232.38 L69.20,232.37 L69.40,232.37 L69.60,232.36 L69.80,232.35 L70.00,232.34 L70.20,232.34 L70.40,232.33 L70.60,232.32 L70.80,232.31 L71.00,232.31 L71.20,232.30 L71.40,232.29 L71.60,232.28 L71.80,232.27 L72.00,232.26 L72.20,232.26 L72.40,232.25 L72.60,232.24 L72.80,232.23 L73.00,232.22 L73.20,232.21 L73.40,232.20 L73.60,232.19 L73.80,232.18 L74.00,232.17 L74.20,232.17 L74.40,232.16 L74.60,232.15 L74.80,232.14 L75.00,232.13 L75.20,232.12 L75.40,232.11 L75.60,232.10 L75.80,232.08 L76.00,232.07 L76.20,232.06 L76.40,232.05 L76.60,232.04 L76.80,232.03 L77.00,232.02 L77.20,232.01 L77.40,232.00 L77.60,231.98 L77.80,231.97 L78.00,231.96 L78.20,231.95 L78.40,231.94 L78.60,231.92 L78.80,231.91 L79.00,231.90 L79.20,231.89 L79.40,231.87 L79.60,231.86 L79.80,231.85 L80.00,231.83 L80.20,231.82 L80.40,231.81 L80.60,231.79 L80.80,231.78 L81.00,231.77 L81.20,231.75 L81.40,231.74 L81.60,231.72 L81.80,231.71 L82.00,231.69 L82.20,231.68 L82.40,231.66 L82.60,231.65 L82.80,231.63 L83.00,231.61 L83.20,231.60 L83.40,231.58 L83.60,231.57 L83.80,231.55 L84.00,231.53 L84.20,231.52 L84.40,231.50 L84.60,231.48 L84.80,231.46 L85.00,231.45 L85.20,231.43 L85.40,231.41 L85.60,231.39 L85.80,231.37 L86.00,231.35 L86.20,231.33 L86.40,231.32 L86.60,231.30 L86.80,231.28 L87.00,231.26 L87.20,231.24 L87.40,231.22 L87.60,231.19 L87.80,231.17 L88.00,231.15 L88.20,231.13 L88.40,231.11 L88.60,231.09 L88.80,231.07 L89.00,231.04 L89.20,231.02 L89.40,231.00 L89.60,230.97 L89.80,230.95 L90.00,230.93 L90.20,230.90 L90.40,230.88 L90.60,230.85 L90.80,230.83 L91.00,230.80 L91.20,230.78 L91.40,230.75 L91.60,230.73 L91.80,230.70 L92.00,230.67 L92.20,230.65 L92.40,230.62 L92.60,230.59 L92.80,230.57 L93.00,230.54 L93.20,230.51 L93.40,230.48 L93.60,230.45 L93.80,230.42 L94.00,230.39 L94.20,230.36 L94.40,230.33 L94.60,230.30 L94.80,230.27 L95.00,230.24 L95.20,230.20 L95.40,230.17 L95.60,230.14 L95.80,230.11 L96.00,230.07 L96.20,230.04 L96.40,230.00 L96.60,229.97 L96.80,229.93 L97.00,229.90 L97.20,229.86 L97.40,229.83 L97.60,229.79 L97.80,229.75 L98.00,229.72 L98.20,229.68 L98.40,229.64 L98.60,229.60 L98.80,229.56 L99.00,229.52 L99.20,229.48 L99.40,229.44 L99.60,229.40 L99.80,229.36 L100.00,229.31 L100.20,229.27 L100.40,229.23 L100.60,229.19 L100.80,229.14 L101.00,229.10 L101.20,229.05 L101.40,229.01 L101.60,228.96 L101.80,228.91 L102.00,228.87 L102.20,228.82 L102.40,228.77 L102.60,228.72 L102.80,228.67 L103.00,228.62 L103.20,228.57 L103.40,228.52 L103.60,228.47 L103.80,228.41 L104.00,228.36 L104.20,228.31 L104.40,228.25 L104.60,228.20 L104.80,228.14 L105.00,228.09 L105.20,228.03 L105.40,227.97 L105.60,227.91 L105.80,227.85 L106.00,227.79 L106.20,227.73 L106.40,227.67 L106.60,227.61 L106.80,227.55 L107.00,227.49 L107.20,227.42 L107.40,227.36 L107.60,227.29 L107.80,227.23 L108.00,227.16 L108.20,227.09 L108.40,227.02 L108.60,226.95 L108.80,226.88 L109.00,226.81 L109.20,226.74 L109.40,226.67 L109.60,226.60 L109.80,226.52 L110.00,226.45 L110.20,226.37 L110.40,226.30 L110.60,226.22 L110.80,226.14 L111.00,226.06 L111.20,225.98 L111.40,225.90 L111.60,225.82 L111.80,225.73 L112.00,225.65 L112.20,225.56 L112.40,225.48 L112.60,225.39 L112.80,225.30 L113.00,225.21 L113.20,225.12 L113.40,225.03 L113.60,224.94 L113.80,224.85 L114.00,224.75 L114.20,224.66 L114.40,224.56 L114.60,224.46 L114.80,224.36 L115.00,224.26 L115.20,224.16 L115.40,224.06 L115.60,223.96 L115.80,223.85 L116.00,223.75 L116.20,223.64 L116.40,223.53 L116.60,223.42 L116.80,223.31 L117.00,223.20 L117.20,223.09 L117.40,222.97 L117.60,222.85 L117.80,222.74 L118.00,222.62 L118.20,222.50 L118.40,222.38 L118.60,222.25 L118.80,222.13 L119.00,222.00 L119.20,221.88 L119.40,221.75 L119.60,221.62 L119.80,221.49 L120.00,221.35 L120.20,221.22 L120.40,221.08 L120.60,220.95 L120.80,220.81 L121.00,220.66 L121.20,220.52 L121.40,220.38 L121.60,220.23 L121.80,220.08 L122.00,219.94 L122.20,219.78 L122.40,219.63 L122.60,219.48 L122.80,219.32 L123.00,219.16 L123.20,219.00 L123.40,218.84 L123.60,218.68 L123.80,218.51 L124.00,218.34 L124.20,218.17 L124.40,218.00 L124.60,217.83 L124.80,217.66 L125.00,217.48 L125.20,217.30 L125.40,217.12 L125.60,216.93 L125.80,216.75 L126.00,216.56 L126.20,216.37 L126.40,216.18 L126.60,215.98 L126.80,215.79 L127.00,215.59 L127.20,215.39 L127.40,215.19 L127.60,214.98 L127.80,214.77 L128.00,214.56 L128.20,214.35 L128.40,214.13 L128.60,213.92 L128.80,213.70 L129.00,213.47 L129.20,213.25 L129.40,213.02 L129.60,212.79 L129.80,212.56 L130.00,212.32 L130.20,212.08 L130.40,211.84 L130.60,211.60 L130.80,211.35 L131.00,211.10 L131.20,210.85 L131.40,210.59 L131.60,210.34 L131.80,210.08 L132.00,209.81 L132.20,209.54 L132.40,209.27 L132.60,209.00 L132.80,208.72 L133.00,208.45 L133.20,208.16 L133.40,207.88 L133.60,207.59 L133.80,207.30 L134.00,207.00 L134.20,206.70 L134.40,206.40 L134.60,206.09 L134.80,205.78 L135.00,205.47 L135.20,205.16 L135.40,204.84 L135.60,204.51 L135.80,204.19 L136.00,203.85 L136.20,203.52 L136.40,203.18 L136.60,202.84 L136.80,202.49 L137.00,202.14 L137.20,201.79 L137.40,201.43 L137.60,201.07 L137.80,200.71 L138.00,200.34 L138.20,199.96 L138.40,199.58 L138.60,199.20 L138.80,198.81 L139.00,198.42 L139.20,198.03 L139.40,197.63 L139.60,197.22 L139.80,196.82 L140.00,196.40 L140.20,195.99 L140.40,195.56 L140.60,195.14 L140.80,194.70 L141.00,194.27 L141.20,193.83 L141.40,193.38 L141.60,192.93 L141.80,192.47 L142.00,192.01 L142.20,191.55 L142.40,191.07 L142.60,190.60 L142.80,190.12 L143.00,189.63 L143.20,189.14 L143.40,188.64 L143.60,188.14 L143.80,187.63 L144.00,187.11 L144.20,186.60 L144.40,186.07 L144.60,185.54 L144.80,185.00 L145.00,184.46 L145.20,183.91 L145.40,183.36 L145.60,182.80 L145.80,182.23 L146.00,181.66 L146.20,181.09 L146.40,180.50 L146.60,179.91 L146.80,179.32 L147.00,178.71 L147.20,178.11 L147.40,177.49 L147.60,176.87 L147.80,176.24 L148.00,175.61 L148.20,174.97 L148.40,174.32 L148.60,173.66 L148.80,173.00 L149.00,172.34 L149.20,171.66 L149.40,170.98 L149.60,170.29 L149.80,169.60 L150.00,168.89 L150.20,168.19 L150.40,167.47 L150.60,166.75 L150.80,166.02 L151.00,165.28 L151.20,164.53 L151.40,163.78 L151.60,163.02 L151.80,162.26 L152.00,161.48 L152.20,160.70 L152.40,159.91 L152.60,159.11 L152.80,158.31 L153.00,157.50 L153.20,156.68 L153.40,155.85 L153.60,155.02 L153.80,154.18 L154.00,153.33 L154.20,152.47 L154.40,151.60 L154.60,150.73 L154.80,149.85 L155.00,148.96 L155.20,148.07 L155.40,147.16 L155.60,146.25 L155.80,145.33 L156.00,144.40 L156.20,143.47 L156.40,142.53 L156.60,141.58 L156.80,140.62 L157.00,139.65 L157.20,138.68 L157.40,137.70 L157.60,136.71 L157.80,135.71 L158.00,134.71 L158.20,133.70 L158.40,132.68 L158.60,131.65 L158.80,130.62 L159.00,129.57 L159.20,128.53 L159.40,127.47 L159.60,126.41 L159.80,125.34 L160.00,124.26 L160.20,123.18 L160.40,122.09 L160.60,120.99 L160.80,119.88 L161.00,118.77 L161.20,117.66 L161.40,116.53 L161.60,115.41 L161.80,114.27 L162.00,113.13 L162.20,111.98 L162.40,110.83 L162.60,109.67 L162.80,108.51 L163.00,107.34 L163.20,106.17 L163.40,105.00 L163.60,103.82 L163.80,102.63 L164.00,101.44 L164.20,100.25 L164.40,99.06 L164.60,97.86 L164.80,96.66 L165.00,95.45 L165.20,94.25 L165.40,93.04 L165.60,91.83 L165.80,90.62 L166.00,89.41 L166.20,88.19 L166.40,86.98 L166.60,85.77 L166.80,84.56 L167.00,83.35 L167.20,82.14 L167.40,80.93 L167.60,79.72 L167.80,78.52 L168.00,77.32 L168.20,76.12 L168.40,74.93 L168.60,73.74 L168.80,72.56 L169.00,71.39 L169.20,70.22 L169.40,69.05 L169.60,67.90 L169.80,66.75 L170.00,65.61 L170.20,64.48 L170.40,63.36 L170.60,62.25 L170.80,61.15 L171.00,60.06 L171.20,58.98 L171.40,57.92 L171.60,56.87 L171.80,55.83 L172.00,54.81 L172.20,53.81 L172.40,52.82 L172.60,51.85 L172.80,50.90 L173.00,49.97 L173.20,49.05 L173.40,48.16 L173.60,47.29 L173.80,46.43 L174.00,45.61 L174.20,44.80 L174.40,44.02 L174.60,43.26 L174.80,42.53 L175.00,41.83 L175.20,41.15 L175.40,40.50 L175.60,39.88 L175.80,39.29 L176.00,38.73 L176.20,38.20 L176.40,37.70 L176.60,37.23 L176.80,36.80 L177.00,36.40 L177.20,36.04 L177.40,35.71 L177.60,35.41 L177.80,35.16 L178.00,34.94 L178.20,34.75 L178.40,34.61 L178.60,34.50 L178.80,34.43 L179.00,34.40 L179.20,34.42 L179.40,34.47 L179.60,34.56 L179.80,34.69 L180.00,34.86 L180.20,35.08 L180.40,35.33 L180.60,35.63 L180.80,35.97 L181.00,36.35 L181.20,36.77 L181.40,37.23 L181.60,37.74 L181.80,38.28 L182.00,38.87 L182.20,39.49 L182.40,40.16 L182.60,40.87 L182.80,41.61 L183.00,42.40 L183.20,43.22 L183.40,44.08 L183.60,44.98 L183.80,45.91 L184.00,46.88 L184.20,47.88 L184.40,48.92 L184.60,49.99 L184.80,51.09 L185.00,52.22 L185.20,53.38 L185.40,54.57 L185.60,55.79 L185.80,57.03 L186.00,58.30 L186.20,59.60 L186.40,60.91 L186.60,62.25 L186.80,63.60 L187.00,64.98 L187.20,66.37 L187.40,67.78 L187.60,69.21 L187.80,70.65 L188.00,72.10 L188.20,73.56 L188.40,75.03 L188.60,76.50 L188.80,77.99 L189.00,79.48 L189.20,80.98 L189.40,82.48 L189.60,83.98 L189.80,85.48 L190.00,86.98 L190.20,88.49 L190.40,89.98 L190.60,91.48 L190.80,92.97 L191.00,94.46 L191.20,95.94 L191.40,97.42 L191.60,98.89 L191.80,100.35 L192.00,101.80 L192.20,103.24 L192.40,104.67 L192.60,106.09 L192.80,107.51 L193.00,108.91 L193.20,110.29 L193.40,111.67 L193.60,113.04 L193.80,114.39 L194.00,115.73 L194.20,117.06 L194.40,118.37 L194.60,119.67 L194.80,120.96 L195.00,122.23 L195.20,123.49 L195.40,124.74 L195.60,125.97 L195.80,127.20 L196.00,128.40 L196.20,129.60 L196.40,130.78 L196.60,131.95 L196.80,133.10 L197.00,134.25 L197.20,135.37 L197.40,136.49 L197.60,137.60 L197.80,138.69 L198.00,139.77 L198.20,140.83 L198.40,141.89 L198.60,142.93 L198.80,143.96 L199.00,144.98 L199.20,145.99 L199.40,146.98 L199.60,147.97 L199.80,148.94 L200.00,149.90 L200.20,150.86 L200.40,151.80 L200.60,152.73 L200.80,153.64 L201.00,154.55 L201.20,155.45 L201.40,156.34 L201.60,157.22 L201.80,158.08 L202.00,158.94 L202.20,159.79 L202.40,160.63 L202.60,161.46 L202.80,162.27 L203.00,163.08 L203.20,163.88 L203.40,164.68 L203.60,165.46 L203.80,166.23 L204.00,166.99 L204.20,167.75 L204.40,168.50 L204.60,169.24 L204.80,169.97 L205.00,170.69 L205.20,171.40 L205.40,172.11 L205.60,172.80 L205.80,173.49 L206.00,174.17 L206.20,174.85 L206.40,175.51 L206.60,176.17 L206.80,176.82 L207.00,177.46 L207.20,178.10 L207.40,178.73 L207.60,179.35 L207.80,179.96 L208.00,180.57 L208.20,181.17 L208.40,181.76 L208.60,182.35 L208.80,182.93 L209.00,183.50 L209.20,184.07 L209.40,184.63 L209.60,185.18 L209.80,185.73 L210.00,186.27 L210.20,186.81 L210.40,187.34 L210.60,187.86 L210.80,188.37 L211.00,188.89 L211.20,189.39 L211.40,189.89 L211.60,190.38 L211.80,190.87 L212.00,191.35 L212.20,191.83 L212.40,192.30 L212.60,192.77 L212.80,193.23 L213.00,193.68 L213.20,194.13 L213.40,194.58 L213.60,195.02 L213.80,195.45 L214.00,195.88 L214.20,196.31 L214.40,196.73 L214.60,197.14 L214.80,197.55 L215.00,197.96 L215.20,198.36 L215.40,198.76 L215.60,199.15 L215.80,199.54 L216.00,199.92 L216.20,200.30 L216.40,200.67 L216.60,201.04 L216.80,201.41 L217.00,201.77 L217.20,202.13 L217.40,202.48 L217.60,202.83 L217.80,203.18 L218.00,203.52 L218.20,203.85 L218.40,204.19 L218.60,204.52 L218.80,204.84 L219.00,205.17 L219.20,205.48 L219.40,205.80 L219.60,206.11 L219.80,206.42 L220.00,206.72 L220.20,207.02 L220.40,207.32 L220.60,207.61 L220.80,207.91 L221.00,208.19 L221.20,208.48 L221.40,208.76 L221.60,209.03 L221.80,209.31 L222.00,209.58 L222.20,209.85 L222.40,210.11 L222.60,210.38 L222.80,210.63 L223.00,210.89 L223.20,211.14 L223.40,211.39 L223.60,211.64 L223.80,211.89 L224.00,212.13 L224.20,212.37 L224.40,212.60 L224.60,212.84 L224.80,213.07 L225.00,213.29 L225.20,213.52 L225.40,213.74 L225.60,213.96 L225.80,214.18 L226.00,214.40 L226.20,214.61 L226.40,214.82 L226.60,215.03 L226.80,215.23 L227.00,215.44 L227.20,215.64 L227.40,215.84 L227.60,216.03 L227.80,216.23 L228.00,216.42 L228.20,216.61 L228.40,216.80 L228.60,216.98 L228.80,217.17 L229.00,217.35 L229.20,217.53 L229.40,217.70 L229.60,217.88 L229.80,218.05 L230.00,218.22 L230.20,218.39 L230.40,218.56 L230.60,218.72 L230.80,218.89 L231.00,219.05 L231.20,219.21 L231.40,219.37 L231.60,219.52 L231.80,219.68 L232.00,219.83 L232.20,219.98 L232.40,220.13 L232.60,220.28 L232.80,220.42 L233.00,220.57 L233.20,220.71 L233.40,220.85 L233.60,220.99 L233.80,221.13 L234.00,221.26 L234.20,221.40 L234.40,221.53 L234.60,221.66 L234.80,221.79 L235.00,221.92 L235.20,222.05 L235.40,222.17 L235.60,222.30 L235.80,222.42 L236.00,222.54 L236.20,222.66 L236.40,222.78 L236.60,222.89 L236.80,223.01 L237.00,223.12 L237.20,223.24 L237.40,223.35 L237.60,223.46 L237.80,223.57 L238.00,223.68 L238.20,223.78 L238.40,223.89 L238.60,223.99 L238.80,224.10 L239.00,224.20 L239.20,224.30 L239.40,224.40 L239.60,224.50 L239.80,224.59 L240.00,224.69 L240.20,224.79 L240.40,224.88 L240.60,224.97 L240.80,225.06 L241.00,225.16 L241.20,225.25 L241.40,225.33 L241.60,225.42 L241.80,225.51 L242.00,225.59 L242.20,225.68 L242.40,225.76 L242.60,225.85 L242.80,225.93 L243.00,226.01 L243.20,226.09 L243.40,226.17 L243.60,226.25 L243.80,226.32 L244.00,226.40 L244.20,226.48 L244.40,226.55 L244.60,226.62 L244.80,226.70 L245.00,226.77 L245.20,226.84 L245.40,226.91 L245.60,226.98 L245.80,227.05 L246.00,227.12 L246.20,227.18 L246.40,227.25 L246.60,227.32 L246.80,227.38 L247.00,227.45 L247.20,227.51 L247.40,227.57 L247.60,227.63 L247.80,227.70 L248.00,227.76 L248.20,227.82 L248.40,227.88 L248.60,227.94 L248.80,227.99 L249.00,228.05 L249.20,228.11 L249.40,228.16 L249.60,228.22 L249.80,228.27 L250.00,228.33 L250.20,228.38 L250.40,228.43 L250.60,228.49 L250.80,228.54 L251.00,228.59 L251.20,228.64 L251.40,228.69 L251.60,228.74 L251.80,228.79 L252.00,228.84 L252.20,228.88 L252.40,228.93 L252.60,228.98 L252.80,229.02 L253.00,229.07 L253.20,229.11 L253.40,229.16 L253.60,229.20 L253.80,229.25 L254.00,229.29 L254.20,229.33 L254.40,229.37 L254.60,229.41 L254.80,229.46 L255.00,229.50 L255.20,229.54 L255.40,229.58 L255.60,229.61 L255.80,229.65 L256.00,229.69 L256.20,229.73 L256.40,229.77 L256.60,229.80 L256.80,229.84 L257.00,229.88 L257.20,229.91 L257.40,229.95 L257.60,229.98 L257.80,230.02 L258.00,230.05 L258.20,230.09 L258.40,230.12 L258.60,230.15 L258.80,230.18 L259.00,230.22 L259.20,230.25 L259.40,230.28 L259.60,230.31 L259.80,230.34 L260.00,230.37 L260.20,230.40 L260.40,230.43 L260.60,230.46 L260.80,230.49 L261.00,230.52 L261.20,230.55 L261.40,230.58 L261.60,230.60 L261.80,230.63 L262.00,230.66 L262.20,230.68 L262.40,230.71 L262.60,230.74 L262.80,230.76 L263.00,230.79 L263.20,230.81 L263.40,230.84 L263.60,230.86 L263.80,230.89 L264.00,230.91 L264.20,230.94 L264.40,230.96 L264.60,230.98 L264.80,231.01 L265.00,231.03 L265.20,231.05 L265.40,231.07 L265.60,231.10 L265.80,231.12 L266.00,231.14 L266.20,231.16 L266.40,231.18 L266.60,231.20 L266.80,231.22 L267.00,231.24 L267.20,231.26 L267.40,231.28 L267.60,231.30 L267.80,231.32 L268.00,231.34 L268.20,231.36 L268.40,231.38 L268.60,231.40 L268.80,231.42 L269.00,231.43 L269.20,231.45 L269.40,231.47 L269.60,231.49 L269.80,231.51 L270.00,231.52 L270.20,231.54 L270.40,231.56 L270.60,231.57 L270.80,231.59 L271.00,231.60 L271.20,231.62 L271.40,231.64 L271.60,231.65 L271.80,231.67 L272.00,231.68 L272.20,231.70 L272.40,231.71 L272.60,231.73 L272.80,231.74 L273.00,231.76 L273.20,231.77 L273.40,231.78 L273.60,231.80 L273.80,231.81 L274.00,231.83 L274.20,231.84 L274.40,231.85 L274.60,231.87 L274.80,231.88 L275.00,231.89 L275.20,231.90 L275.40,231.92 L275.60,231.93 L275.80,231.94 L276.00,231.95 L276.20,231.97 L276.40,231.98 L276.60,231.99 L276.80,232.00 L277.00,232.01 L277.20,232.02 L277.40,232.03 L277.60,232.05 L277.80,232.06 L278.00,232.07 L278.20,232.08 L278.40,232.09 L278.60,232.10 L278.80,232.11 L279.00,232.12 L279.20,232.13 L279.40,232.14 L279.60,232.15 L279.80,232.16 L280.00,232.17 L280.20,232.18 L280.40,232.19 L280.60,232.20 L280.80,232.21 L281.00,232.22 L281.20,232.22 L281.40,232.23 L281.60,232.24 L281.80,232.25 L282.00,232.26 L282.20,232.27 L282.40,232.28 L282.60,232.28 L282.80,232.29 L283.00,232.30 L283.20,232.31 L283.40,232.32 L283.60,232.32 L283.80,232.33 L284.00,232.34 L284.20,232.35 L284.40,232.35 L284.60,232.36 L284.80,232.37 L285.00,232.38 L285.20,232.38 L285.40,232.39 L285.60,232.40 L285.80,232.40 L286.00,232.41 L286.20,232.42 L286.40,232.43 L286.60,232.43 L286.80,232.44 L287.00,232.44 L287.20,232.45 L287.40,232.46 L287.60,232.46 L287.80,232.47 L288.00,232.48 L288.20,232.48 L288.40,232.49 L288.60,232.49 L288.80,232.50 L289.00,232.51 L289.20,232.51 L289.40,232.52 L289.60,232.52 L289.80,232.53 L290.00,232.53 L290.20,232.54 L290.40,232.54 L290.60,232.55 L290.80,232.55 L291.00,232.56 L291.20,232.56 L291.40,232.57 L291.60,232.57 L291.80,232.58 L292.00,232.58" fill="none" stroke="#ff0a0a" stroke-width="2.1" stroke-linecap="round" stroke-dasharray="0.01 4.2" stroke-linejoin="round"/>
<text x="25.221250000000005" y="237.45" font-size="13.4" textLength="15.5" lengthAdjust="spacingAndGlyphs">0.0</text>
<text x="25.221250000000005" y="191.81" font-size="13.4" textLength="15.5" lengthAdjust="spacingAndGlyphs">2.0</text>
<text x="25.221250000000005" y="146.17" font-size="13.4" textLength="15.5" lengthAdjust="spacingAndGlyphs">4.0</text>
<text x="25.221250000000005" y="100.53" font-size="13.4" textLength="15.5" lengthAdjust="spacingAndGlyphs">6.0</text>
<text x="25.221250000000005" y="54.89" font-size="13.4" textLength="15.5" lengthAdjust="spacingAndGlyphs">8.0</text>
<text x="19.029750000000007" y="9.25" font-size="13.4" textLength="21.7" lengthAdjust="spacingAndGlyphs">10.0</text>
<text x="44.52" y="252.9" font-size="13.1" textLength="15.2" lengthAdjust="spacingAndGlyphs">0.1</text>
<text x="89.10" y="252.9" font-size="13.1">1</text>
<text x="126.05" y="252.9" font-size="13.1" textLength="12.2" lengthAdjust="spacingAndGlyphs">10</text>
<text x="163.00" y="252.9" font-size="13.1" textLength="18.3" lengthAdjust="spacingAndGlyphs">100</text>
<text x="199.95" y="252.9" font-size="13.1" textLength="24.4" lengthAdjust="spacingAndGlyphs">1000</text>
<text x="236.90" y="252.9" font-size="13.1" textLength="30.5" lengthAdjust="spacingAndGlyphs">10000</text>
<text x="273.85" y="252.9" font-size="13.1" textLength="36.6" lengthAdjust="spacingAndGlyphs">100000</text>
<text x="90.4" y="272.4" font-size="13.2" textLength="173.6" lengthAdjust="spacingAndGlyphs">Lineal energy in water <tspan class="i">y</tspan> [keV/µm]</text>
<g transform="translate(9.2,138.6) rotate(-90)">
<text x="0" y="0" font-size="13.2" textLength="4.0" lengthAdjust="spacingAndGlyphs" class="i">r</text>
<text x="4.3" y="6.4" font-size="8.6" textLength="20.2" lengthAdjust="spacingAndGlyphs">RBE<tspan class="i">α</tspan></text>
<text x="25.4" y="0" font-size="13.2" textLength="11.2" lengthAdjust="spacingAndGlyphs" class="i">(y)</text>
</g>
<text x="334.2" y="58.3" font-size="13.2" textLength="3.6" lengthAdjust="spacingAndGlyphs" class="i">r</text>
<text x="338.0" y="61.0" font-size="8.6" textLength="21.8" lengthAdjust="spacingAndGlyphs">RBE<tspan class="i">α</tspan></text>
<text x="360.2" y="58.3" font-size="13.2" textLength="10.0" lengthAdjust="spacingAndGlyphs" class="i">(y)</text>
<text x="374.4" y="58.3" font-size="13.2" textLength="64.4" lengthAdjust="spacingAndGlyphs">derived from</text>
<path d="M340.00,80.00 H368.90" fill="none" stroke="#2a0df0" stroke-width="1.8"/>
<path d="M340.85,100.40 H368.20" fill="none" stroke="#00adef" stroke-width="1.7" stroke-linecap="round" stroke-dasharray="10.8 6.2"/>
<path d="M340.85,120.30 H368.20" fill="none" stroke="#0eae4e" stroke-width="1.7" stroke-linecap="round" stroke-dasharray="4.6 6.45"/>
<path d="M340.00,140.05 H368.90" fill="none" stroke="#ffc000" stroke-width="2" stroke-dasharray="4.8 1.55"/>
<path d="M340.50,160.30 H366.00" fill="none" stroke="#ff0a0a" stroke-width="2.1" stroke-linecap="round" stroke-dasharray="0.01 4.2"/>
<text x="383.4" y="85.1" font-size="13.2" textLength="81.2" lengthAdjust="spacingAndGlyphs">V79-BWF RBE</text>
<text x="464.6" y="89.0" font-size="8.2" textLength="15.2" lengthAdjust="spacingAndGlyphs">10%</text>
<text x="383.4" y="104.6" font-size="13.2" textLength="72" lengthAdjust="spacingAndGlyphs">original MKM</text>
<text x="383.4" y="123.0" font-size="13.2" textLength="99" lengthAdjust="spacingAndGlyphs">non-Poisson MKM</text>
<text x="383.4" y="142.7" font-size="13.2" textLength="80.7" lengthAdjust="spacingAndGlyphs">modified MKM</text>
<text x="383.4" y="162.5" font-size="13.2" textLength="106.8" lengthAdjust="spacingAndGlyphs">modified MKM with</text>
<text x="492.8" y="162.5" font-size="13.2" textLength="6.0" lengthAdjust="spacingAndGlyphs">α</text>
<text x="499.0" y="165.2" font-size="8.6" textLength="4.2" lengthAdjust="spacingAndGlyphs">0</text>
<text x="508.0" y="162.5" font-size="13.2" textLength="6.6" lengthAdjust="spacingAndGlyphs">=</text>
<text x="518.3" y="162.5" font-size="13.2" textLength="6.2" lengthAdjust="spacingAndGlyphs">0</text>
</svg></body></html>
